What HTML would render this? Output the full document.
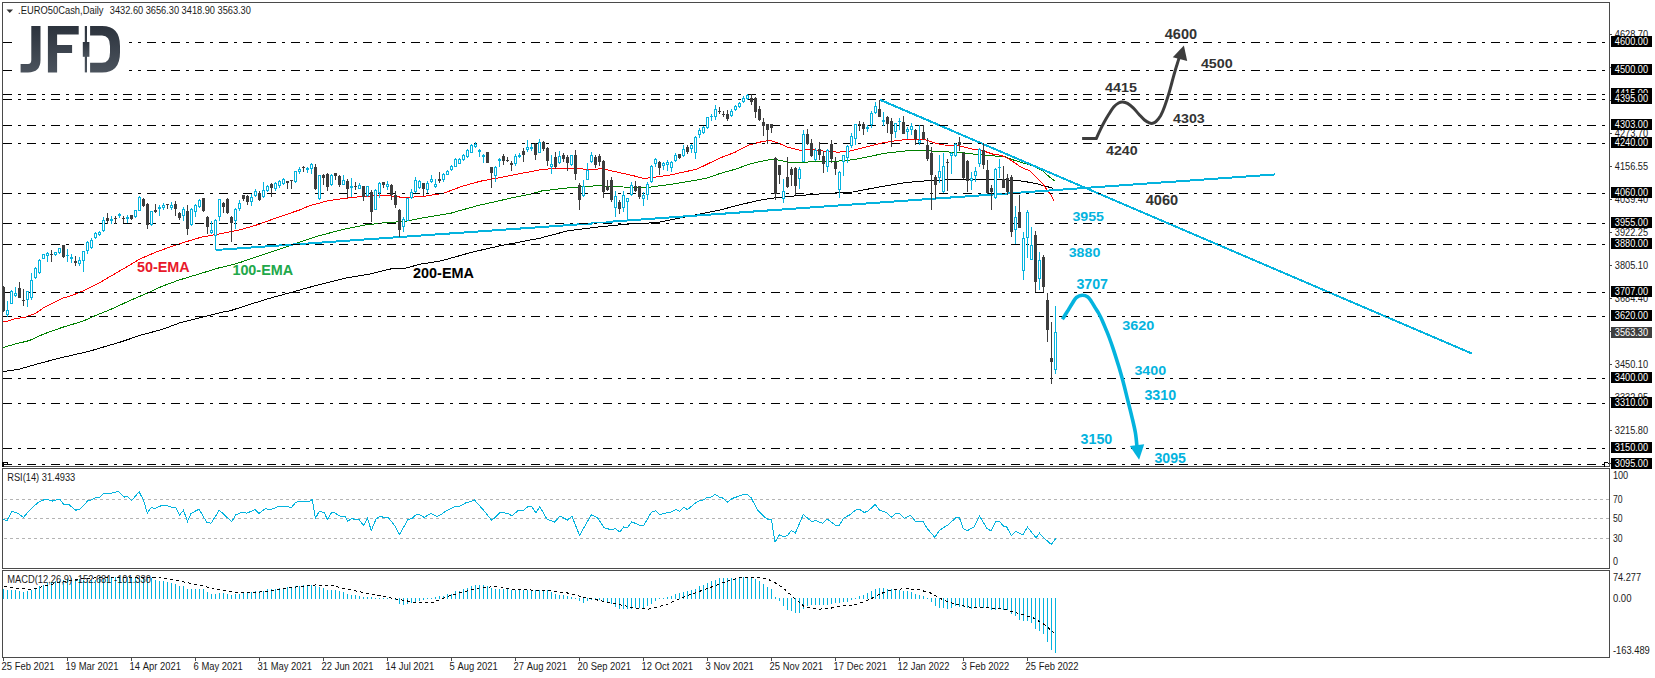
<!DOCTYPE html>
<html><head><meta charset="utf-8"><title>EURO50Cash Daily</title>
<style>html,body{margin:0;padding:0;background:#fff;width:1655px;height:678px;overflow:hidden}</style>
</head><body>
<svg width="1655" height="678" viewBox="0 0 1655 678" style="display:block">
<rect width="1655" height="678" fill="#fff"/>
<g shape-rendering="crispEdges">
<polyline points="2.9,371.7 19.2,369.2 36.9,364.1 59.0,358.2 88.5,351.5 103.2,347.1 120.9,341.9 141.6,334.9 162.2,329.4 179.9,322.8 203.5,316.9 221.2,312.4 230.0,310.8 251.8,303.8 270.6,298.0 290.9,292.5 317.0,285.2 346.0,278.0 367.8,274.4 373.0,273.3 393.0,268.4 405.0,268.4 420.0,264.2 440.0,261.1 455.0,257.0 470.0,252.7 485.0,249.2 500.0,245.8 520.0,242.0 540.0,238.2 546.4,236.4 568.5,230.7 598.0,227.0 627.5,224.1 657.0,222.6 686.5,216.7 720.0,210.0 737.7,205.3 756.9,200.8 771.6,198.2 793.7,196.0 823.2,193.7 852.7,192.0 882.2,186.4 904.4,182.7 926.5,180.8 960.0,179.3 983.6,179.3 1011.9,180.1 1023.7,181.3 1036.7,183.7 1045.0,186.0 1053.2,188.4" fill="none" stroke="#000" stroke-width="1" />
<polyline points="2.9,347.6 14.7,344.2 29.5,340.5 44.2,333.8 61.9,327.5 82.6,321.3 95.9,315.4 112.1,308.8 129.8,300.6 147.5,293.0 162.2,286.2 178.0,280.4 198.0,274.3 219.2,267.8 230.0,265.4 240.0,262.5 259.0,256.0 280.8,248.7 299.6,242.2 318.2,236.0 343.2,229.4 365.4,225.0 386.0,222.5 403.7,221.6 424.4,217.6 450.9,213.2 461.2,210.2 480.0,205.0 494.7,201.9 509.5,198.3 531.6,193.8 541.9,190.9 561.1,188.7 571.4,187.5 598.0,185.7 612.7,186.5 627.5,187.2 649.6,187.2 671.7,184.2 693.9,180.6 708.6,177.6 720.0,173.5 734.7,169.4 749.5,164.2 761.3,161.3 773.1,159.1 790.8,162.5 808.5,162.0 832.1,161.6 852.7,159.8 867.5,156.9 885.2,153.2 911.7,150.2 923.5,150.2 936.8,151.7 960.0,152.3 974.2,154.2 989.5,155.7 1004.8,156.5 1011.9,159.5 1021.4,162.4 1033.2,166.0 1042.6,170.7 1049.7,177.2 1054.4,180.7" fill="none" stroke="#008000" stroke-width="1" />
<polyline points="2.9,321.6 7.4,321.3 13.3,319.1 25.1,317.2 35.4,313.6 44.2,307.3 61.9,298.4 71.8,295.5 83.6,290.8 98.9,283.1 113.1,274.8 126.1,267.2 140.2,258.9 156.7,251.8 178.0,244.2 201.5,237.1 219.2,233.9 240.0,229.9 259.2,224.2 276.9,217.6 299.0,210.2 309.3,205.8 328.5,200.6 347.7,198.0 365.4,196.2 381.6,195.5 396.3,196.2 402.2,197.7 409.6,197.4 424.4,196.2 443.5,193.3 461.2,186.6 480.0,181.3 494.7,178.6 516.9,174.2 541.9,169.5 561.1,168.0 575.9,168.0 586.2,169.5 602.4,168.8 620.1,172.7 634.9,176.1 643.7,178.6 657.0,176.9 671.7,174.7 696.8,169.2 720.0,158.0 734.7,152.4 749.5,144.8 761.3,141.8 770.1,140.4 779.0,143.3 787.8,147.3 799.6,150.2 811.4,149.5 823.2,151.0 838.0,152.2 849.8,151.0 864.5,147.3 882.2,142.9 897.0,140.6 908.8,139.2 923.5,139.2 932.4,142.1 941.2,144.8 960.0,146.0 971.8,148.9 983.6,151.0 993.0,154.2 1001.3,155.4 1009.6,159.3 1021.4,167.5 1029.6,170.7 1035.5,176.6 1042.6,183.7 1047.3,190.2 1050.9,194.7 1054.4,201.4" fill="none" stroke="#ff0000" stroke-width="1" />
</g>
<g shape-rendering="crispEdges" stroke="#04B3DE" stroke-width="2" fill="none">
<line x1="215.5" y1="250" x2="593" y2="223.4"/>
<line x1="592" y1="222.5" x2="606" y2="222.5" stroke-width="1"/>
<line x1="606" y1="222.0" x2="1275.5" y2="174.4"/>
<line x1="880" y1="99.8" x2="1472" y2="353.6"/>
</g>
<g shape-rendering="crispEdges" stroke="#000" stroke-width="1" stroke-dasharray="9 6 3 6">
<line x1="3" y1="42.5" x2="1609" y2="42.5"/>
<line x1="3" y1="70.5" x2="1609" y2="70.5"/>
<line x1="3" y1="94.5" x2="1609" y2="94.5"/>
<line x1="3" y1="99.5" x2="1609" y2="99.5"/>
<line x1="3" y1="125.5" x2="1609" y2="125.5"/>
<line x1="3" y1="143.5" x2="1609" y2="143.5"/>
<line x1="3" y1="193.5" x2="1609" y2="193.5"/>
<line x1="3" y1="223.5" x2="1609" y2="223.5"/>
<line x1="3" y1="244.5" x2="1609" y2="244.5"/>
<line x1="3" y1="292.5" x2="1609" y2="292.5"/>
<line x1="3" y1="316.5" x2="1609" y2="316.5"/>
<line x1="3" y1="378.5" x2="1609" y2="378.5"/>
<line x1="3" y1="403.5" x2="1609" y2="403.5"/>
<line x1="3" y1="448.5" x2="1609" y2="448.5"/>
<line x1="3" y1="464.5" x2="1609" y2="464.5"/>
</g>
<g shape-rendering="crispEdges">
<rect x="3" y="286" width="1" height="26" fill="#3d3d3d"/>
<rect x="3" y="287" width="2" height="24" fill="#3d3d3d"/>
<rect x="7" y="301" width="1" height="16" fill="#04B3DE"/>
<rect x="6" y="310" width="3" height="5" fill="#04B3DE"/>
<rect x="7" y="311" width="1" height="3" fill="#fff"/>
<rect x="11" y="290" width="1" height="14" fill="#04B3DE"/>
<rect x="10" y="291" width="3" height="13" fill="#04B3DE"/>
<rect x="11" y="292" width="1" height="11" fill="#fff"/>
<rect x="15" y="287" width="1" height="10" fill="#04B3DE"/>
<rect x="14" y="293" width="3" height="3" fill="#04B3DE"/>
<rect x="15" y="294" width="1" height="1" fill="#fff"/>
<rect x="19" y="282" width="1" height="16" fill="#3d3d3d"/>
<rect x="18" y="288" width="3" height="10" fill="#3d3d3d"/>
<rect x="23" y="289" width="1" height="17" fill="#3d3d3d"/>
<rect x="22" y="300" width="3" height="1" fill="#3d3d3d"/>
<rect x="27" y="291" width="1" height="16" fill="#04B3DE"/>
<rect x="26" y="291" width="3" height="9" fill="#04B3DE"/>
<rect x="27" y="292" width="1" height="7" fill="#fff"/>
<rect x="31" y="273" width="1" height="27" fill="#04B3DE"/>
<rect x="30" y="280" width="3" height="18" fill="#04B3DE"/>
<rect x="31" y="281" width="1" height="16" fill="#fff"/>
<rect x="35" y="267" width="1" height="12" fill="#04B3DE"/>
<rect x="34" y="268" width="3" height="10" fill="#04B3DE"/>
<rect x="35" y="269" width="1" height="8" fill="#fff"/>
<rect x="39" y="259" width="1" height="15" fill="#04B3DE"/>
<rect x="38" y="260" width="3" height="13" fill="#04B3DE"/>
<rect x="39" y="261" width="1" height="11" fill="#fff"/>
<rect x="43" y="254" width="1" height="5" fill="#04B3DE"/>
<rect x="42" y="254" width="3" height="5" fill="#04B3DE"/>
<rect x="43" y="255" width="1" height="3" fill="#fff"/>
<rect x="47" y="252" width="1" height="10" fill="#04B3DE"/>
<rect x="46" y="253" width="3" height="3" fill="#04B3DE"/>
<rect x="47" y="254" width="1" height="1" fill="#fff"/>
<rect x="51" y="250" width="1" height="12" fill="#3d3d3d"/>
<rect x="50" y="254" width="3" height="1" fill="#3d3d3d"/>
<rect x="55" y="252" width="1" height="4" fill="#04B3DE"/>
<rect x="54" y="252" width="3" height="3" fill="#04B3DE"/>
<rect x="55" y="253" width="1" height="1" fill="#fff"/>
<rect x="59" y="248" width="1" height="6" fill="#04B3DE"/>
<rect x="58" y="248" width="3" height="5" fill="#04B3DE"/>
<rect x="59" y="249" width="1" height="3" fill="#fff"/>
<rect x="63" y="245" width="1" height="13" fill="#3d3d3d"/>
<rect x="62" y="245" width="3" height="12" fill="#3d3d3d"/>
<rect x="67" y="249" width="1" height="13" fill="#04B3DE"/>
<rect x="66" y="255" width="3" height="1" fill="#04B3DE"/>
<rect x="71" y="254" width="1" height="9" fill="#04B3DE"/>
<rect x="70" y="257" width="3" height="2" fill="#04B3DE"/>
<rect x="75" y="256" width="1" height="10" fill="#3d3d3d"/>
<rect x="74" y="261" width="3" height="2" fill="#3d3d3d"/>
<rect x="79" y="257" width="1" height="9" fill="#04B3DE"/>
<rect x="78" y="260" width="3" height="4" fill="#04B3DE"/>
<rect x="79" y="261" width="1" height="2" fill="#fff"/>
<rect x="83" y="251" width="1" height="21" fill="#04B3DE"/>
<rect x="82" y="251" width="3" height="10" fill="#04B3DE"/>
<rect x="83" y="252" width="1" height="8" fill="#fff"/>
<rect x="87" y="241" width="1" height="13" fill="#04B3DE"/>
<rect x="86" y="242" width="3" height="9" fill="#04B3DE"/>
<rect x="87" y="243" width="1" height="7" fill="#fff"/>
<rect x="91" y="238" width="1" height="11" fill="#04B3DE"/>
<rect x="90" y="240" width="3" height="8" fill="#04B3DE"/>
<rect x="91" y="241" width="1" height="6" fill="#fff"/>
<rect x="95" y="232" width="1" height="7" fill="#04B3DE"/>
<rect x="94" y="233" width="3" height="5" fill="#04B3DE"/>
<rect x="95" y="234" width="1" height="3" fill="#fff"/>
<rect x="99" y="231" width="1" height="5" fill="#04B3DE"/>
<rect x="98" y="232" width="3" height="3" fill="#04B3DE"/>
<rect x="99" y="233" width="1" height="1" fill="#fff"/>
<rect x="103" y="217" width="1" height="15" fill="#04B3DE"/>
<rect x="102" y="220" width="3" height="11" fill="#04B3DE"/>
<rect x="103" y="221" width="1" height="9" fill="#fff"/>
<rect x="107" y="213" width="1" height="11" fill="#3d3d3d"/>
<rect x="106" y="218" width="3" height="3" fill="#3d3d3d"/>
<rect x="111" y="216" width="1" height="8" fill="#04B3DE"/>
<rect x="110" y="219" width="3" height="2" fill="#04B3DE"/>
<rect x="115" y="216" width="1" height="8" fill="#3d3d3d"/>
<rect x="114" y="218" width="3" height="1" fill="#3d3d3d"/>
<rect x="119" y="213" width="1" height="5" fill="#04B3DE"/>
<rect x="118" y="214" width="3" height="2" fill="#04B3DE"/>
<rect x="123" y="216" width="1" height="7" fill="#3d3d3d"/>
<rect x="122" y="218" width="3" height="1" fill="#3d3d3d"/>
<rect x="127" y="215" width="1" height="8" fill="#04B3DE"/>
<rect x="126" y="217" width="3" height="2" fill="#04B3DE"/>
<rect x="131" y="215" width="1" height="5" fill="#3d3d3d"/>
<rect x="130" y="215" width="3" height="4" fill="#3d3d3d"/>
<rect x="135" y="210" width="1" height="8" fill="#04B3DE"/>
<rect x="134" y="210" width="3" height="7" fill="#04B3DE"/>
<rect x="135" y="211" width="1" height="5" fill="#fff"/>
<rect x="139" y="196" width="1" height="15" fill="#04B3DE"/>
<rect x="138" y="197" width="3" height="14" fill="#04B3DE"/>
<rect x="139" y="198" width="1" height="12" fill="#fff"/>
<rect x="143" y="198" width="1" height="9" fill="#3d3d3d"/>
<rect x="142" y="199" width="3" height="7" fill="#3d3d3d"/>
<rect x="147" y="203" width="1" height="26" fill="#3d3d3d"/>
<rect x="146" y="204" width="3" height="21" fill="#3d3d3d"/>
<rect x="151" y="211" width="1" height="15" fill="#04B3DE"/>
<rect x="150" y="211" width="3" height="14" fill="#04B3DE"/>
<rect x="151" y="212" width="1" height="12" fill="#fff"/>
<rect x="155" y="204" width="1" height="9" fill="#3d3d3d"/>
<rect x="154" y="210" width="3" height="2" fill="#3d3d3d"/>
<rect x="159" y="205" width="1" height="11" fill="#04B3DE"/>
<rect x="158" y="207" width="3" height="2" fill="#04B3DE"/>
<rect x="163" y="203" width="1" height="7" fill="#04B3DE"/>
<rect x="162" y="205" width="3" height="3" fill="#04B3DE"/>
<rect x="163" y="206" width="1" height="1" fill="#fff"/>
<rect x="167" y="204" width="1" height="5" fill="#3d3d3d"/>
<rect x="166" y="204" width="3" height="1" fill="#3d3d3d"/>
<rect x="171" y="202" width="1" height="8" fill="#04B3DE"/>
<rect x="170" y="205" width="3" height="3" fill="#04B3DE"/>
<rect x="171" y="206" width="1" height="1" fill="#fff"/>
<rect x="175" y="201" width="1" height="15" fill="#3d3d3d"/>
<rect x="174" y="204" width="3" height="5" fill="#3d3d3d"/>
<rect x="179" y="212" width="1" height="8" fill="#3d3d3d"/>
<rect x="178" y="213" width="3" height="5" fill="#3d3d3d"/>
<rect x="183" y="207" width="1" height="14" fill="#04B3DE"/>
<rect x="182" y="209" width="3" height="7" fill="#04B3DE"/>
<rect x="183" y="210" width="1" height="5" fill="#fff"/>
<rect x="187" y="205" width="1" height="30" fill="#3d3d3d"/>
<rect x="186" y="211" width="3" height="18" fill="#3d3d3d"/>
<rect x="191" y="208" width="1" height="18" fill="#04B3DE"/>
<rect x="190" y="209" width="3" height="16" fill="#04B3DE"/>
<rect x="191" y="210" width="1" height="14" fill="#fff"/>
<rect x="195" y="204" width="1" height="13" fill="#04B3DE"/>
<rect x="194" y="205" width="3" height="7" fill="#04B3DE"/>
<rect x="195" y="206" width="1" height="5" fill="#fff"/>
<rect x="199" y="199" width="1" height="9" fill="#04B3DE"/>
<rect x="198" y="200" width="3" height="7" fill="#04B3DE"/>
<rect x="199" y="201" width="1" height="5" fill="#fff"/>
<rect x="203" y="198" width="1" height="14" fill="#3d3d3d"/>
<rect x="202" y="198" width="3" height="13" fill="#3d3d3d"/>
<rect x="207" y="216" width="1" height="18" fill="#3d3d3d"/>
<rect x="206" y="217" width="3" height="10" fill="#3d3d3d"/>
<rect x="211" y="221" width="1" height="13" fill="#04B3DE"/>
<rect x="210" y="230" width="3" height="3" fill="#04B3DE"/>
<rect x="211" y="231" width="1" height="1" fill="#fff"/>
<rect x="215" y="219" width="1" height="31" fill="#04B3DE"/>
<rect x="214" y="220" width="3" height="16" fill="#04B3DE"/>
<rect x="215" y="221" width="1" height="14" fill="#fff"/>
<rect x="219" y="199" width="1" height="22" fill="#04B3DE"/>
<rect x="218" y="199" width="3" height="18" fill="#04B3DE"/>
<rect x="219" y="200" width="1" height="16" fill="#fff"/>
<rect x="223" y="202" width="1" height="11" fill="#3d3d3d"/>
<rect x="222" y="203" width="3" height="4" fill="#3d3d3d"/>
<rect x="227" y="198" width="1" height="16" fill="#3d3d3d"/>
<rect x="226" y="199" width="3" height="14" fill="#3d3d3d"/>
<rect x="231" y="216" width="1" height="26" fill="#3d3d3d"/>
<rect x="230" y="217" width="3" height="6" fill="#3d3d3d"/>
<rect x="235" y="208" width="1" height="21" fill="#04B3DE"/>
<rect x="234" y="209" width="3" height="12" fill="#04B3DE"/>
<rect x="235" y="210" width="1" height="10" fill="#fff"/>
<rect x="239" y="200" width="1" height="11" fill="#04B3DE"/>
<rect x="238" y="203" width="3" height="6" fill="#04B3DE"/>
<rect x="239" y="204" width="1" height="4" fill="#fff"/>
<rect x="243" y="195" width="1" height="6" fill="#3d3d3d"/>
<rect x="242" y="195" width="3" height="4" fill="#3d3d3d"/>
<rect x="247" y="195" width="1" height="10" fill="#3d3d3d"/>
<rect x="246" y="196" width="3" height="6" fill="#3d3d3d"/>
<rect x="251" y="194" width="1" height="12" fill="#04B3DE"/>
<rect x="250" y="197" width="3" height="5" fill="#04B3DE"/>
<rect x="251" y="198" width="1" height="3" fill="#fff"/>
<rect x="255" y="189" width="1" height="8" fill="#04B3DE"/>
<rect x="254" y="191" width="3" height="5" fill="#04B3DE"/>
<rect x="255" y="192" width="1" height="3" fill="#fff"/>
<rect x="259" y="191" width="1" height="10" fill="#3d3d3d"/>
<rect x="258" y="193" width="3" height="7" fill="#3d3d3d"/>
<rect x="263" y="182" width="1" height="16" fill="#04B3DE"/>
<rect x="262" y="190" width="3" height="7" fill="#04B3DE"/>
<rect x="263" y="191" width="1" height="5" fill="#fff"/>
<rect x="267" y="185" width="1" height="7" fill="#04B3DE"/>
<rect x="266" y="186" width="3" height="5" fill="#04B3DE"/>
<rect x="267" y="187" width="1" height="3" fill="#fff"/>
<rect x="271" y="183" width="1" height="14" fill="#3d3d3d"/>
<rect x="270" y="184" width="3" height="4" fill="#3d3d3d"/>
<rect x="275" y="182" width="1" height="9" fill="#04B3DE"/>
<rect x="274" y="183" width="3" height="6" fill="#04B3DE"/>
<rect x="275" y="184" width="1" height="4" fill="#fff"/>
<rect x="279" y="180" width="1" height="8" fill="#04B3DE"/>
<rect x="278" y="181" width="3" height="5" fill="#04B3DE"/>
<rect x="279" y="182" width="1" height="3" fill="#fff"/>
<rect x="283" y="178" width="1" height="7" fill="#04B3DE"/>
<rect x="282" y="179" width="3" height="5" fill="#04B3DE"/>
<rect x="283" y="180" width="1" height="3" fill="#fff"/>
<rect x="287" y="181" width="1" height="8" fill="#3d3d3d"/>
<rect x="286" y="181" width="3" height="2" fill="#3d3d3d"/>
<rect x="291" y="180" width="1" height="9" fill="#3d3d3d"/>
<rect x="290" y="180" width="3" height="1" fill="#3d3d3d"/>
<rect x="295" y="171" width="1" height="12" fill="#04B3DE"/>
<rect x="294" y="171" width="3" height="11" fill="#04B3DE"/>
<rect x="295" y="172" width="1" height="9" fill="#fff"/>
<rect x="299" y="167" width="1" height="7" fill="#04B3DE"/>
<rect x="298" y="169" width="3" height="3" fill="#04B3DE"/>
<rect x="299" y="170" width="1" height="1" fill="#fff"/>
<rect x="303" y="166" width="1" height="6" fill="#3d3d3d"/>
<rect x="302" y="167" width="3" height="1" fill="#3d3d3d"/>
<rect x="307" y="167" width="1" height="6" fill="#04B3DE"/>
<rect x="306" y="168" width="3" height="2" fill="#04B3DE"/>
<rect x="311" y="163" width="1" height="11" fill="#04B3DE"/>
<rect x="310" y="164" width="3" height="5" fill="#04B3DE"/>
<rect x="311" y="165" width="1" height="3" fill="#fff"/>
<rect x="315" y="164" width="1" height="26" fill="#3d3d3d"/>
<rect x="314" y="167" width="3" height="22" fill="#3d3d3d"/>
<rect x="319" y="175" width="1" height="25" fill="#04B3DE"/>
<rect x="318" y="175" width="3" height="24" fill="#04B3DE"/>
<rect x="319" y="176" width="1" height="22" fill="#fff"/>
<rect x="323" y="174" width="1" height="11" fill="#3d3d3d"/>
<rect x="322" y="175" width="3" height="3" fill="#3d3d3d"/>
<rect x="327" y="173" width="1" height="18" fill="#3d3d3d"/>
<rect x="326" y="174" width="3" height="13" fill="#3d3d3d"/>
<rect x="331" y="174" width="1" height="12" fill="#04B3DE"/>
<rect x="330" y="175" width="3" height="10" fill="#04B3DE"/>
<rect x="331" y="176" width="1" height="8" fill="#fff"/>
<rect x="335" y="173" width="1" height="7" fill="#3d3d3d"/>
<rect x="334" y="173" width="3" height="3" fill="#3d3d3d"/>
<rect x="339" y="175" width="1" height="12" fill="#3d3d3d"/>
<rect x="338" y="176" width="3" height="9" fill="#3d3d3d"/>
<rect x="343" y="175" width="1" height="10" fill="#04B3DE"/>
<rect x="342" y="180" width="3" height="5" fill="#04B3DE"/>
<rect x="343" y="181" width="1" height="3" fill="#fff"/>
<rect x="347" y="179" width="1" height="19" fill="#3d3d3d"/>
<rect x="346" y="181" width="3" height="8" fill="#3d3d3d"/>
<rect x="351" y="178" width="1" height="19" fill="#04B3DE"/>
<rect x="350" y="186" width="3" height="2" fill="#04B3DE"/>
<rect x="355" y="182" width="1" height="8" fill="#3d3d3d"/>
<rect x="354" y="186" width="3" height="1" fill="#3d3d3d"/>
<rect x="359" y="183" width="1" height="6" fill="#04B3DE"/>
<rect x="358" y="185" width="3" height="4" fill="#04B3DE"/>
<rect x="359" y="186" width="1" height="2" fill="#fff"/>
<rect x="363" y="186" width="1" height="15" fill="#3d3d3d"/>
<rect x="362" y="186" width="3" height="11" fill="#3d3d3d"/>
<rect x="367" y="186" width="1" height="11" fill="#04B3DE"/>
<rect x="366" y="186" width="3" height="10" fill="#04B3DE"/>
<rect x="367" y="187" width="1" height="8" fill="#fff"/>
<rect x="371" y="190" width="1" height="32" fill="#3d3d3d"/>
<rect x="370" y="192" width="3" height="20" fill="#3d3d3d"/>
<rect x="375" y="189" width="1" height="21" fill="#04B3DE"/>
<rect x="374" y="190" width="3" height="20" fill="#04B3DE"/>
<rect x="375" y="191" width="1" height="18" fill="#fff"/>
<rect x="379" y="182" width="1" height="16" fill="#04B3DE"/>
<rect x="378" y="183" width="3" height="10" fill="#04B3DE"/>
<rect x="379" y="184" width="1" height="8" fill="#fff"/>
<rect x="383" y="182" width="1" height="6" fill="#3d3d3d"/>
<rect x="382" y="182" width="3" height="3" fill="#3d3d3d"/>
<rect x="387" y="181" width="1" height="9" fill="#04B3DE"/>
<rect x="386" y="184" width="3" height="3" fill="#04B3DE"/>
<rect x="387" y="185" width="1" height="1" fill="#fff"/>
<rect x="391" y="184" width="1" height="16" fill="#3d3d3d"/>
<rect x="390" y="185" width="3" height="10" fill="#3d3d3d"/>
<rect x="395" y="191" width="1" height="17" fill="#3d3d3d"/>
<rect x="394" y="195" width="3" height="10" fill="#3d3d3d"/>
<rect x="399" y="209" width="1" height="28" fill="#3d3d3d"/>
<rect x="398" y="210" width="3" height="20" fill="#3d3d3d"/>
<rect x="403" y="217" width="1" height="15" fill="#04B3DE"/>
<rect x="402" y="219" width="3" height="8" fill="#04B3DE"/>
<rect x="403" y="220" width="1" height="6" fill="#fff"/>
<rect x="407" y="198" width="1" height="23" fill="#04B3DE"/>
<rect x="406" y="198" width="3" height="23" fill="#04B3DE"/>
<rect x="407" y="199" width="1" height="21" fill="#fff"/>
<rect x="411" y="189" width="1" height="10" fill="#04B3DE"/>
<rect x="410" y="192" width="3" height="6" fill="#04B3DE"/>
<rect x="411" y="193" width="1" height="4" fill="#fff"/>
<rect x="415" y="177" width="1" height="16" fill="#04B3DE"/>
<rect x="414" y="180" width="3" height="12" fill="#04B3DE"/>
<rect x="415" y="181" width="1" height="10" fill="#fff"/>
<rect x="419" y="180" width="1" height="9" fill="#04B3DE"/>
<rect x="418" y="181" width="3" height="7" fill="#04B3DE"/>
<rect x="419" y="182" width="1" height="5" fill="#fff"/>
<rect x="423" y="183" width="1" height="13" fill="#3d3d3d"/>
<rect x="422" y="183" width="3" height="6" fill="#3d3d3d"/>
<rect x="427" y="181" width="1" height="12" fill="#04B3DE"/>
<rect x="426" y="183" width="3" height="7" fill="#04B3DE"/>
<rect x="427" y="184" width="1" height="5" fill="#fff"/>
<rect x="431" y="175" width="1" height="8" fill="#04B3DE"/>
<rect x="430" y="179" width="3" height="3" fill="#04B3DE"/>
<rect x="431" y="180" width="1" height="1" fill="#fff"/>
<rect x="435" y="179" width="1" height="9" fill="#04B3DE"/>
<rect x="434" y="184" width="3" height="3" fill="#04B3DE"/>
<rect x="435" y="185" width="1" height="1" fill="#fff"/>
<rect x="439" y="172" width="1" height="11" fill="#3d3d3d"/>
<rect x="438" y="179" width="3" height="2" fill="#3d3d3d"/>
<rect x="443" y="173" width="1" height="9" fill="#04B3DE"/>
<rect x="442" y="174" width="3" height="6" fill="#04B3DE"/>
<rect x="443" y="175" width="1" height="4" fill="#fff"/>
<rect x="447" y="170" width="1" height="5" fill="#04B3DE"/>
<rect x="446" y="171" width="3" height="4" fill="#04B3DE"/>
<rect x="447" y="172" width="1" height="2" fill="#fff"/>
<rect x="451" y="165" width="1" height="6" fill="#04B3DE"/>
<rect x="450" y="166" width="3" height="4" fill="#04B3DE"/>
<rect x="451" y="167" width="1" height="2" fill="#fff"/>
<rect x="455" y="158" width="1" height="9" fill="#04B3DE"/>
<rect x="454" y="159" width="3" height="8" fill="#04B3DE"/>
<rect x="455" y="160" width="1" height="6" fill="#fff"/>
<rect x="459" y="158" width="1" height="6" fill="#04B3DE"/>
<rect x="458" y="159" width="3" height="5" fill="#04B3DE"/>
<rect x="459" y="160" width="1" height="3" fill="#fff"/>
<rect x="463" y="154" width="1" height="7" fill="#04B3DE"/>
<rect x="462" y="155" width="3" height="5" fill="#04B3DE"/>
<rect x="463" y="156" width="1" height="3" fill="#fff"/>
<rect x="467" y="149" width="1" height="9" fill="#04B3DE"/>
<rect x="466" y="150" width="3" height="7" fill="#04B3DE"/>
<rect x="467" y="151" width="1" height="5" fill="#fff"/>
<rect x="471" y="144" width="1" height="9" fill="#04B3DE"/>
<rect x="470" y="145" width="3" height="8" fill="#04B3DE"/>
<rect x="471" y="146" width="1" height="6" fill="#fff"/>
<rect x="475" y="142" width="1" height="6" fill="#04B3DE"/>
<rect x="474" y="144" width="3" height="3" fill="#04B3DE"/>
<rect x="475" y="145" width="1" height="1" fill="#fff"/>
<rect x="479" y="149" width="1" height="8" fill="#04B3DE"/>
<rect x="478" y="150" width="3" height="2" fill="#04B3DE"/>
<rect x="483" y="154" width="1" height="9" fill="#04B3DE"/>
<rect x="482" y="155" width="3" height="2" fill="#04B3DE"/>
<rect x="487" y="152" width="1" height="11" fill="#3d3d3d"/>
<rect x="486" y="152" width="3" height="11" fill="#3d3d3d"/>
<rect x="491" y="167" width="1" height="21" fill="#3d3d3d"/>
<rect x="490" y="167" width="3" height="6" fill="#3d3d3d"/>
<rect x="495" y="166" width="1" height="16" fill="#04B3DE"/>
<rect x="494" y="167" width="3" height="9" fill="#04B3DE"/>
<rect x="495" y="168" width="1" height="7" fill="#fff"/>
<rect x="499" y="158" width="1" height="9" fill="#04B3DE"/>
<rect x="498" y="159" width="3" height="2" fill="#04B3DE"/>
<rect x="503" y="154" width="1" height="11" fill="#3d3d3d"/>
<rect x="502" y="156" width="3" height="5" fill="#3d3d3d"/>
<rect x="507" y="157" width="1" height="5" fill="#3d3d3d"/>
<rect x="506" y="160" width="3" height="1" fill="#3d3d3d"/>
<rect x="511" y="161" width="1" height="10" fill="#3d3d3d"/>
<rect x="510" y="163" width="3" height="2" fill="#3d3d3d"/>
<rect x="515" y="154" width="1" height="12" fill="#04B3DE"/>
<rect x="514" y="156" width="3" height="8" fill="#04B3DE"/>
<rect x="515" y="157" width="1" height="6" fill="#fff"/>
<rect x="519" y="153" width="1" height="5" fill="#04B3DE"/>
<rect x="518" y="155" width="3" height="2" fill="#04B3DE"/>
<rect x="523" y="148" width="1" height="14" fill="#3d3d3d"/>
<rect x="522" y="151" width="3" height="4" fill="#3d3d3d"/>
<rect x="527" y="140" width="1" height="12" fill="#04B3DE"/>
<rect x="526" y="147" width="3" height="3" fill="#04B3DE"/>
<rect x="527" y="148" width="1" height="1" fill="#fff"/>
<rect x="531" y="144" width="1" height="7" fill="#04B3DE"/>
<rect x="530" y="147" width="3" height="2" fill="#04B3DE"/>
<rect x="535" y="143" width="1" height="17" fill="#3d3d3d"/>
<rect x="534" y="144" width="3" height="11" fill="#3d3d3d"/>
<rect x="539" y="139" width="1" height="14" fill="#04B3DE"/>
<rect x="538" y="142" width="3" height="11" fill="#04B3DE"/>
<rect x="539" y="143" width="1" height="9" fill="#fff"/>
<rect x="543" y="141" width="1" height="10" fill="#3d3d3d"/>
<rect x="542" y="142" width="3" height="7" fill="#3d3d3d"/>
<rect x="547" y="147" width="1" height="19" fill="#3d3d3d"/>
<rect x="546" y="148" width="3" height="13" fill="#3d3d3d"/>
<rect x="551" y="155" width="1" height="19" fill="#04B3DE"/>
<rect x="550" y="164" width="3" height="3" fill="#04B3DE"/>
<rect x="551" y="165" width="1" height="1" fill="#fff"/>
<rect x="555" y="152" width="1" height="17" fill="#3d3d3d"/>
<rect x="554" y="157" width="3" height="10" fill="#3d3d3d"/>
<rect x="559" y="151" width="1" height="13" fill="#04B3DE"/>
<rect x="558" y="156" width="3" height="7" fill="#04B3DE"/>
<rect x="559" y="157" width="1" height="5" fill="#fff"/>
<rect x="563" y="153" width="1" height="9" fill="#3d3d3d"/>
<rect x="562" y="155" width="3" height="4" fill="#3d3d3d"/>
<rect x="567" y="155" width="1" height="16" fill="#3d3d3d"/>
<rect x="566" y="157" width="3" height="6" fill="#3d3d3d"/>
<rect x="571" y="155" width="1" height="11" fill="#04B3DE"/>
<rect x="570" y="155" width="3" height="10" fill="#04B3DE"/>
<rect x="571" y="156" width="1" height="8" fill="#fff"/>
<rect x="575" y="150" width="1" height="30" fill="#3d3d3d"/>
<rect x="574" y="155" width="3" height="19" fill="#3d3d3d"/>
<rect x="579" y="183" width="1" height="27" fill="#3d3d3d"/>
<rect x="578" y="185" width="3" height="15" fill="#3d3d3d"/>
<rect x="583" y="180" width="1" height="17" fill="#04B3DE"/>
<rect x="582" y="186" width="3" height="10" fill="#04B3DE"/>
<rect x="583" y="187" width="1" height="8" fill="#fff"/>
<rect x="587" y="163" width="1" height="17" fill="#04B3DE"/>
<rect x="586" y="170" width="3" height="10" fill="#04B3DE"/>
<rect x="587" y="171" width="1" height="8" fill="#fff"/>
<rect x="591" y="152" width="1" height="11" fill="#04B3DE"/>
<rect x="590" y="155" width="3" height="7" fill="#04B3DE"/>
<rect x="591" y="156" width="1" height="5" fill="#fff"/>
<rect x="595" y="155" width="1" height="13" fill="#3d3d3d"/>
<rect x="594" y="157" width="3" height="8" fill="#3d3d3d"/>
<rect x="599" y="154" width="1" height="12" fill="#3d3d3d"/>
<rect x="598" y="156" width="3" height="6" fill="#3d3d3d"/>
<rect x="603" y="160" width="1" height="38" fill="#3d3d3d"/>
<rect x="602" y="161" width="3" height="31" fill="#3d3d3d"/>
<rect x="607" y="180" width="1" height="11" fill="#3d3d3d"/>
<rect x="606" y="186" width="3" height="4" fill="#3d3d3d"/>
<rect x="611" y="177" width="1" height="25" fill="#3d3d3d"/>
<rect x="610" y="180" width="3" height="20" fill="#3d3d3d"/>
<rect x="615" y="191" width="1" height="26" fill="#04B3DE"/>
<rect x="614" y="196" width="3" height="12" fill="#04B3DE"/>
<rect x="615" y="197" width="1" height="10" fill="#fff"/>
<rect x="619" y="200" width="1" height="14" fill="#3d3d3d"/>
<rect x="618" y="202" width="3" height="7" fill="#3d3d3d"/>
<rect x="623" y="191" width="1" height="21" fill="#04B3DE"/>
<rect x="622" y="195" width="3" height="13" fill="#04B3DE"/>
<rect x="623" y="196" width="1" height="11" fill="#fff"/>
<rect x="627" y="198" width="1" height="22" fill="#04B3DE"/>
<rect x="626" y="198" width="3" height="4" fill="#04B3DE"/>
<rect x="627" y="199" width="1" height="2" fill="#fff"/>
<rect x="631" y="182" width="1" height="14" fill="#04B3DE"/>
<rect x="630" y="185" width="3" height="10" fill="#04B3DE"/>
<rect x="631" y="186" width="1" height="8" fill="#fff"/>
<rect x="635" y="181" width="1" height="11" fill="#3d3d3d"/>
<rect x="634" y="186" width="3" height="5" fill="#3d3d3d"/>
<rect x="639" y="186" width="1" height="13" fill="#3d3d3d"/>
<rect x="638" y="186" width="3" height="11" fill="#3d3d3d"/>
<rect x="643" y="192" width="1" height="14" fill="#04B3DE"/>
<rect x="642" y="195" width="3" height="4" fill="#04B3DE"/>
<rect x="643" y="196" width="1" height="2" fill="#fff"/>
<rect x="647" y="182" width="1" height="18" fill="#04B3DE"/>
<rect x="646" y="184" width="3" height="11" fill="#04B3DE"/>
<rect x="647" y="185" width="1" height="9" fill="#fff"/>
<rect x="651" y="165" width="1" height="18" fill="#04B3DE"/>
<rect x="650" y="166" width="3" height="16" fill="#04B3DE"/>
<rect x="651" y="167" width="1" height="14" fill="#fff"/>
<rect x="655" y="158" width="1" height="9" fill="#04B3DE"/>
<rect x="654" y="159" width="3" height="5" fill="#04B3DE"/>
<rect x="655" y="160" width="1" height="3" fill="#fff"/>
<rect x="659" y="161" width="1" height="14" fill="#3d3d3d"/>
<rect x="658" y="162" width="3" height="6" fill="#3d3d3d"/>
<rect x="663" y="162" width="1" height="8" fill="#04B3DE"/>
<rect x="662" y="163" width="3" height="3" fill="#04B3DE"/>
<rect x="663" y="164" width="1" height="1" fill="#fff"/>
<rect x="667" y="160" width="1" height="11" fill="#04B3DE"/>
<rect x="666" y="162" width="3" height="3" fill="#04B3DE"/>
<rect x="667" y="163" width="1" height="1" fill="#fff"/>
<rect x="671" y="161" width="1" height="11" fill="#04B3DE"/>
<rect x="670" y="162" width="3" height="6" fill="#04B3DE"/>
<rect x="671" y="163" width="1" height="4" fill="#fff"/>
<rect x="675" y="153" width="1" height="9" fill="#04B3DE"/>
<rect x="674" y="155" width="3" height="6" fill="#04B3DE"/>
<rect x="675" y="156" width="1" height="4" fill="#fff"/>
<rect x="679" y="154" width="1" height="5" fill="#3d3d3d"/>
<rect x="678" y="154" width="3" height="4" fill="#3d3d3d"/>
<rect x="683" y="145" width="1" height="12" fill="#04B3DE"/>
<rect x="682" y="149" width="3" height="7" fill="#04B3DE"/>
<rect x="683" y="150" width="1" height="5" fill="#fff"/>
<rect x="687" y="145" width="1" height="9" fill="#3d3d3d"/>
<rect x="686" y="147" width="3" height="5" fill="#3d3d3d"/>
<rect x="691" y="144" width="1" height="9" fill="#04B3DE"/>
<rect x="690" y="145" width="3" height="4" fill="#04B3DE"/>
<rect x="691" y="146" width="1" height="2" fill="#fff"/>
<rect x="695" y="136" width="1" height="23" fill="#04B3DE"/>
<rect x="694" y="137" width="3" height="16" fill="#04B3DE"/>
<rect x="695" y="138" width="1" height="14" fill="#fff"/>
<rect x="699" y="128" width="1" height="10" fill="#04B3DE"/>
<rect x="698" y="130" width="3" height="5" fill="#04B3DE"/>
<rect x="699" y="131" width="1" height="3" fill="#fff"/>
<rect x="703" y="126" width="1" height="8" fill="#04B3DE"/>
<rect x="702" y="127" width="3" height="6" fill="#04B3DE"/>
<rect x="703" y="128" width="1" height="4" fill="#fff"/>
<rect x="707" y="117" width="1" height="12" fill="#04B3DE"/>
<rect x="706" y="117" width="3" height="11" fill="#04B3DE"/>
<rect x="707" y="118" width="1" height="9" fill="#fff"/>
<rect x="711" y="114" width="1" height="7" fill="#04B3DE"/>
<rect x="710" y="116" width="3" height="1" fill="#04B3DE"/>
<rect x="715" y="105" width="1" height="15" fill="#04B3DE"/>
<rect x="714" y="109" width="3" height="8" fill="#04B3DE"/>
<rect x="715" y="110" width="1" height="6" fill="#fff"/>
<rect x="719" y="107" width="1" height="7" fill="#3d3d3d"/>
<rect x="718" y="111" width="3" height="1" fill="#3d3d3d"/>
<rect x="723" y="111" width="1" height="6" fill="#3d3d3d"/>
<rect x="722" y="114" width="3" height="1" fill="#3d3d3d"/>
<rect x="727" y="110" width="1" height="11" fill="#3d3d3d"/>
<rect x="726" y="114" width="3" height="5" fill="#3d3d3d"/>
<rect x="731" y="109" width="1" height="8" fill="#04B3DE"/>
<rect x="730" y="111" width="3" height="5" fill="#04B3DE"/>
<rect x="731" y="112" width="1" height="3" fill="#fff"/>
<rect x="735" y="105" width="1" height="6" fill="#04B3DE"/>
<rect x="734" y="106" width="3" height="4" fill="#04B3DE"/>
<rect x="735" y="107" width="1" height="2" fill="#fff"/>
<rect x="739" y="102" width="1" height="6" fill="#04B3DE"/>
<rect x="738" y="103" width="3" height="4" fill="#04B3DE"/>
<rect x="739" y="104" width="1" height="2" fill="#fff"/>
<rect x="743" y="96" width="1" height="7" fill="#04B3DE"/>
<rect x="742" y="98" width="3" height="4" fill="#04B3DE"/>
<rect x="743" y="99" width="1" height="2" fill="#fff"/>
<rect x="747" y="94" width="1" height="6" fill="#04B3DE"/>
<rect x="746" y="95" width="3" height="4" fill="#04B3DE"/>
<rect x="747" y="96" width="1" height="2" fill="#fff"/>
<rect x="751" y="94" width="1" height="11" fill="#3d3d3d"/>
<rect x="750" y="98" width="3" height="4" fill="#3d3d3d"/>
<rect x="755" y="97" width="1" height="21" fill="#3d3d3d"/>
<rect x="754" y="98" width="3" height="14" fill="#3d3d3d"/>
<rect x="759" y="106" width="1" height="15" fill="#3d3d3d"/>
<rect x="758" y="109" width="3" height="11" fill="#3d3d3d"/>
<rect x="763" y="118" width="1" height="18" fill="#3d3d3d"/>
<rect x="762" y="122" width="3" height="4" fill="#3d3d3d"/>
<rect x="767" y="124" width="1" height="20" fill="#3d3d3d"/>
<rect x="766" y="124" width="3" height="6" fill="#3d3d3d"/>
<rect x="771" y="124" width="1" height="9" fill="#3d3d3d"/>
<rect x="770" y="124" width="3" height="4" fill="#3d3d3d"/>
<rect x="775" y="157" width="1" height="43" fill="#3d3d3d"/>
<rect x="774" y="158" width="3" height="36" fill="#3d3d3d"/>
<rect x="779" y="165" width="1" height="19" fill="#3d3d3d"/>
<rect x="778" y="165" width="3" height="10" fill="#3d3d3d"/>
<rect x="783" y="179" width="1" height="24" fill="#04B3DE"/>
<rect x="782" y="191" width="3" height="8" fill="#04B3DE"/>
<rect x="783" y="192" width="1" height="6" fill="#fff"/>
<rect x="787" y="157" width="1" height="31" fill="#3d3d3d"/>
<rect x="786" y="177" width="3" height="10" fill="#3d3d3d"/>
<rect x="791" y="167" width="1" height="19" fill="#3d3d3d"/>
<rect x="790" y="169" width="3" height="6" fill="#3d3d3d"/>
<rect x="795" y="167" width="1" height="28" fill="#3d3d3d"/>
<rect x="794" y="168" width="3" height="18" fill="#3d3d3d"/>
<rect x="799" y="167" width="1" height="22" fill="#04B3DE"/>
<rect x="798" y="169" width="3" height="10" fill="#04B3DE"/>
<rect x="799" y="170" width="1" height="8" fill="#fff"/>
<rect x="803" y="130" width="1" height="32" fill="#04B3DE"/>
<rect x="802" y="134" width="3" height="28" fill="#04B3DE"/>
<rect x="803" y="135" width="1" height="26" fill="#fff"/>
<rect x="807" y="129" width="1" height="16" fill="#3d3d3d"/>
<rect x="806" y="134" width="3" height="10" fill="#3d3d3d"/>
<rect x="811" y="139" width="1" height="18" fill="#3d3d3d"/>
<rect x="810" y="143" width="3" height="13" fill="#3d3d3d"/>
<rect x="815" y="148" width="1" height="13" fill="#04B3DE"/>
<rect x="814" y="150" width="3" height="10" fill="#04B3DE"/>
<rect x="815" y="151" width="1" height="8" fill="#fff"/>
<rect x="819" y="142" width="1" height="18" fill="#3d3d3d"/>
<rect x="818" y="149" width="3" height="6" fill="#3d3d3d"/>
<rect x="823" y="151" width="1" height="22" fill="#3d3d3d"/>
<rect x="822" y="156" width="3" height="8" fill="#3d3d3d"/>
<rect x="827" y="149" width="1" height="23" fill="#04B3DE"/>
<rect x="826" y="150" width="3" height="17" fill="#04B3DE"/>
<rect x="827" y="151" width="1" height="15" fill="#fff"/>
<rect x="831" y="140" width="1" height="23" fill="#3d3d3d"/>
<rect x="830" y="144" width="3" height="15" fill="#3d3d3d"/>
<rect x="835" y="157" width="1" height="18" fill="#3d3d3d"/>
<rect x="834" y="162" width="3" height="7" fill="#3d3d3d"/>
<rect x="839" y="171" width="1" height="27" fill="#04B3DE"/>
<rect x="838" y="172" width="3" height="18" fill="#04B3DE"/>
<rect x="839" y="173" width="1" height="16" fill="#fff"/>
<rect x="843" y="155" width="1" height="21" fill="#04B3DE"/>
<rect x="842" y="155" width="3" height="7" fill="#04B3DE"/>
<rect x="843" y="156" width="1" height="5" fill="#fff"/>
<rect x="847" y="145" width="1" height="18" fill="#04B3DE"/>
<rect x="846" y="146" width="3" height="12" fill="#04B3DE"/>
<rect x="847" y="147" width="1" height="10" fill="#fff"/>
<rect x="851" y="133" width="1" height="15" fill="#04B3DE"/>
<rect x="850" y="136" width="3" height="10" fill="#04B3DE"/>
<rect x="851" y="137" width="1" height="8" fill="#fff"/>
<rect x="855" y="124" width="1" height="21" fill="#04B3DE"/>
<rect x="854" y="124" width="3" height="15" fill="#04B3DE"/>
<rect x="855" y="125" width="1" height="13" fill="#fff"/>
<rect x="859" y="121" width="1" height="10" fill="#3d3d3d"/>
<rect x="858" y="124" width="3" height="1" fill="#3d3d3d"/>
<rect x="863" y="122" width="1" height="13" fill="#3d3d3d"/>
<rect x="862" y="124" width="3" height="5" fill="#3d3d3d"/>
<rect x="867" y="125" width="1" height="7" fill="#04B3DE"/>
<rect x="866" y="127" width="3" height="2" fill="#04B3DE"/>
<rect x="871" y="111" width="1" height="17" fill="#04B3DE"/>
<rect x="870" y="113" width="3" height="12" fill="#04B3DE"/>
<rect x="871" y="114" width="1" height="10" fill="#fff"/>
<rect x="875" y="102" width="1" height="12" fill="#04B3DE"/>
<rect x="874" y="106" width="3" height="7" fill="#04B3DE"/>
<rect x="875" y="107" width="1" height="5" fill="#fff"/>
<rect x="879" y="100" width="1" height="17" fill="#3d3d3d"/>
<rect x="878" y="109" width="3" height="8" fill="#3d3d3d"/>
<rect x="883" y="112" width="1" height="14" fill="#04B3DE"/>
<rect x="882" y="120" width="3" height="2" fill="#04B3DE"/>
<rect x="887" y="116" width="1" height="17" fill="#3d3d3d"/>
<rect x="886" y="117" width="3" height="7" fill="#3d3d3d"/>
<rect x="891" y="118" width="1" height="29" fill="#3d3d3d"/>
<rect x="890" y="121" width="3" height="13" fill="#3d3d3d"/>
<rect x="895" y="123" width="1" height="15" fill="#04B3DE"/>
<rect x="894" y="123" width="3" height="9" fill="#04B3DE"/>
<rect x="895" y="124" width="1" height="7" fill="#fff"/>
<rect x="899" y="118" width="1" height="12" fill="#04B3DE"/>
<rect x="898" y="121" width="3" height="1" fill="#04B3DE"/>
<rect x="903" y="116" width="1" height="18" fill="#3d3d3d"/>
<rect x="902" y="122" width="3" height="12" fill="#3d3d3d"/>
<rect x="907" y="127" width="1" height="12" fill="#04B3DE"/>
<rect x="906" y="129" width="3" height="3" fill="#04B3DE"/>
<rect x="907" y="130" width="1" height="1" fill="#fff"/>
<rect x="911" y="123" width="1" height="12" fill="#04B3DE"/>
<rect x="910" y="126" width="3" height="4" fill="#04B3DE"/>
<rect x="911" y="127" width="1" height="2" fill="#fff"/>
<rect x="915" y="129" width="1" height="16" fill="#3d3d3d"/>
<rect x="914" y="130" width="3" height="9" fill="#3d3d3d"/>
<rect x="919" y="125" width="1" height="20" fill="#04B3DE"/>
<rect x="918" y="140" width="3" height="3" fill="#04B3DE"/>
<rect x="919" y="141" width="1" height="1" fill="#fff"/>
<rect x="923" y="125" width="1" height="15" fill="#3d3d3d"/>
<rect x="922" y="132" width="3" height="7" fill="#3d3d3d"/>
<rect x="927" y="138" width="1" height="23" fill="#3d3d3d"/>
<rect x="926" y="145" width="3" height="14" fill="#3d3d3d"/>
<rect x="931" y="147" width="1" height="63" fill="#3d3d3d"/>
<rect x="930" y="153" width="3" height="22" fill="#3d3d3d"/>
<rect x="935" y="175" width="1" height="24" fill="#3d3d3d"/>
<rect x="934" y="177" width="3" height="8" fill="#3d3d3d"/>
<rect x="939" y="155" width="1" height="28" fill="#04B3DE"/>
<rect x="938" y="171" width="3" height="7" fill="#04B3DE"/>
<rect x="939" y="172" width="1" height="5" fill="#fff"/>
<rect x="943" y="153" width="1" height="40" fill="#04B3DE"/>
<rect x="942" y="166" width="3" height="26" fill="#04B3DE"/>
<rect x="943" y="167" width="1" height="24" fill="#fff"/>
<rect x="947" y="159" width="1" height="32" fill="#3d3d3d"/>
<rect x="946" y="162" width="3" height="1" fill="#3d3d3d"/>
<rect x="951" y="152" width="1" height="22" fill="#04B3DE"/>
<rect x="950" y="153" width="3" height="3" fill="#04B3DE"/>
<rect x="951" y="154" width="1" height="1" fill="#fff"/>
<rect x="955" y="143" width="1" height="14" fill="#04B3DE"/>
<rect x="954" y="144" width="3" height="12" fill="#04B3DE"/>
<rect x="955" y="145" width="1" height="10" fill="#fff"/>
<rect x="959" y="137" width="1" height="14" fill="#3d3d3d"/>
<rect x="958" y="142" width="3" height="3" fill="#3d3d3d"/>
<rect x="963" y="152" width="1" height="27" fill="#3d3d3d"/>
<rect x="962" y="153" width="3" height="25" fill="#3d3d3d"/>
<rect x="967" y="160" width="1" height="32" fill="#3d3d3d"/>
<rect x="966" y="161" width="3" height="20" fill="#3d3d3d"/>
<rect x="971" y="172" width="1" height="18" fill="#04B3DE"/>
<rect x="970" y="178" width="3" height="3" fill="#04B3DE"/>
<rect x="971" y="179" width="1" height="1" fill="#fff"/>
<rect x="975" y="167" width="1" height="15" fill="#04B3DE"/>
<rect x="974" y="171" width="3" height="5" fill="#04B3DE"/>
<rect x="975" y="172" width="1" height="3" fill="#fff"/>
<rect x="979" y="148" width="1" height="19" fill="#04B3DE"/>
<rect x="978" y="149" width="3" height="15" fill="#04B3DE"/>
<rect x="979" y="150" width="1" height="13" fill="#fff"/>
<rect x="983" y="143" width="1" height="26" fill="#3d3d3d"/>
<rect x="982" y="150" width="3" height="15" fill="#3d3d3d"/>
<rect x="987" y="160" width="1" height="34" fill="#3d3d3d"/>
<rect x="986" y="170" width="3" height="23" fill="#3d3d3d"/>
<rect x="991" y="185" width="1" height="25" fill="#3d3d3d"/>
<rect x="990" y="188" width="3" height="4" fill="#3d3d3d"/>
<rect x="995" y="168" width="1" height="31" fill="#04B3DE"/>
<rect x="994" y="169" width="3" height="29" fill="#04B3DE"/>
<rect x="995" y="170" width="1" height="27" fill="#fff"/>
<rect x="999" y="159" width="1" height="19" fill="#04B3DE"/>
<rect x="998" y="167" width="3" height="1" fill="#04B3DE"/>
<rect x="1003" y="166" width="1" height="22" fill="#3d3d3d"/>
<rect x="1002" y="179" width="3" height="9" fill="#3d3d3d"/>
<rect x="1007" y="174" width="1" height="21" fill="#3d3d3d"/>
<rect x="1006" y="178" width="3" height="14" fill="#3d3d3d"/>
<rect x="1011" y="175" width="1" height="62" fill="#3d3d3d"/>
<rect x="1010" y="177" width="3" height="55" fill="#3d3d3d"/>
<rect x="1015" y="206" width="1" height="38" fill="#04B3DE"/>
<rect x="1014" y="217" width="3" height="13" fill="#04B3DE"/>
<rect x="1015" y="218" width="1" height="11" fill="#fff"/>
<rect x="1019" y="195" width="1" height="33" fill="#3d3d3d"/>
<rect x="1018" y="212" width="3" height="16" fill="#3d3d3d"/>
<rect x="1023" y="232" width="1" height="48" fill="#04B3DE"/>
<rect x="1022" y="238" width="3" height="33" fill="#04B3DE"/>
<rect x="1023" y="239" width="1" height="31" fill="#fff"/>
<rect x="1027" y="210" width="1" height="48" fill="#04B3DE"/>
<rect x="1026" y="212" width="3" height="26" fill="#04B3DE"/>
<rect x="1027" y="213" width="1" height="24" fill="#fff"/>
<rect x="1031" y="227" width="1" height="33" fill="#04B3DE"/>
<rect x="1030" y="245" width="3" height="15" fill="#04B3DE"/>
<rect x="1031" y="246" width="1" height="13" fill="#fff"/>
<rect x="1035" y="231" width="1" height="61" fill="#3d3d3d"/>
<rect x="1034" y="235" width="3" height="47" fill="#3d3d3d"/>
<rect x="1039" y="252" width="1" height="38" fill="#04B3DE"/>
<rect x="1038" y="260" width="3" height="19" fill="#04B3DE"/>
<rect x="1039" y="261" width="1" height="17" fill="#fff"/>
<rect x="1043" y="255" width="1" height="37" fill="#3d3d3d"/>
<rect x="1042" y="257" width="3" height="30" fill="#3d3d3d"/>
<rect x="1047" y="293" width="1" height="49" fill="#3d3d3d"/>
<rect x="1046" y="300" width="3" height="30" fill="#3d3d3d"/>
<rect x="1051" y="322" width="1" height="62" fill="#3d3d3d"/>
<rect x="1050" y="358" width="3" height="4" fill="#3d3d3d"/>
<rect x="1055" y="306" width="1" height="68" fill="#04B3DE"/>
<rect x="1054" y="332" width="3" height="38" fill="#04B3DE"/>
<rect x="1055" y="333" width="1" height="36" fill="#fff"/>
</g>
<path d="M1082.1,138.5 L1096.3,138.5 L1096.3,138.5 C1096.9,137.2 1098.6,133.3 1099.9,130.6 C1101.2,127.9 1102.5,125.2 1104.0,122.5 C1105.5,119.8 1107.2,116.9 1108.8,114.3 C1110.4,111.7 1112.1,108.9 1113.7,107.0 C1115.3,105.1 1117.1,103.8 1118.6,103.0 C1120.1,102.2 1121.1,101.9 1122.6,102.0 C1124.1,102.1 1125.7,102.4 1127.5,103.4 C1129.3,104.4 1131.3,106.0 1133.2,107.8 C1135.1,109.6 1137.0,112.3 1138.9,114.3 C1140.8,116.3 1142.8,118.6 1144.5,120.0 C1146.2,121.4 1148.1,122.4 1149.4,122.9 C1150.8,123.5 1151.5,123.5 1152.6,123.3 C1153.7,123.1 1154.6,122.9 1155.9,121.6 C1157.2,120.3 1159.1,118.2 1160.6,115.7 C1162.0,113.2 1163.3,110.0 1164.6,106.4 C1165.9,102.9 1167.4,98.4 1168.6,94.4 C1169.8,90.4 1170.8,86.5 1171.9,82.5 C1173.0,78.5 1174.1,74.3 1175.2,70.5 C1176.3,66.7 1177.7,62.6 1178.5,59.9 C1179.3,57.1 1179.9,55.0 1180.2,54.0" fill="none" stroke="#3d3d3d" stroke-width="3" stroke-linejoin="round"/>
<path d="M1183.9,45.6 L1172.8,57.3 L1187.2,61 Z" fill="#3d3d3d"/>
<path d="M1062.4,319.3 C1062.9,318.5 1064.3,316.3 1065.4,314.5 C1066.5,312.7 1067.9,310.6 1069.1,308.6 C1070.3,306.6 1071.5,304.6 1072.7,302.7 C1073.9,300.8 1074.8,298.7 1076.4,297.5 C1078.0,296.3 1080.5,295.4 1082.3,295.3 C1084.1,295.2 1086.0,295.8 1087.5,296.8 C1089.0,297.8 1090.0,299.5 1091.2,301.2 C1092.4,302.9 1093.6,305.1 1094.8,307.1 C1096.0,309.1 1097.3,310.8 1098.5,313.0 C1099.7,315.2 1101.0,317.7 1102.2,320.4 C1103.4,323.1 1104.7,326.3 1105.9,329.2 C1107.1,332.1 1108.2,334.7 1109.4,338.0 C1110.6,341.3 1111.6,344.1 1113.2,348.8 C1114.8,353.6 1117.1,361.0 1118.8,366.5 C1120.5,372.0 1121.7,376.5 1123.2,382.0 C1124.7,387.5 1126.1,393.7 1127.6,399.6 C1129.1,405.5 1130.7,411.8 1132.0,417.3 C1133.3,422.8 1134.6,428.0 1135.4,432.8 C1136.2,437.6 1136.7,443.8 1136.9,446.0" fill="none" stroke="#04B3DE" stroke-width="3.6"/>
<path d="M1139.1,459.8 L1129.8,446.1 L1144.2,444.3 Z" fill="#04B3DE"/>
<text x="1164.8" y="38.8" textLength="32.3" lengthAdjust="spacingAndGlyphs" font-family="Liberation Sans, sans-serif" font-weight="bold" font-size="13.86" fill="#333333">4600</text>
<text x="1200.9" y="67.9" textLength="31.9" lengthAdjust="spacingAndGlyphs" font-family="Liberation Sans, sans-serif" font-weight="bold" font-size="13.43" fill="#333333">4500</text>
<text x="1105.0" y="91.6" textLength="31.9" lengthAdjust="spacingAndGlyphs" font-family="Liberation Sans, sans-serif" font-weight="bold" font-size="13.29" fill="#333333">4415</text>
<text x="1173.1" y="122.7" textLength="31.6" lengthAdjust="spacingAndGlyphs" font-family="Liberation Sans, sans-serif" font-weight="bold" font-size="13.00" fill="#333333">4303</text>
<text x="1106.0" y="154.6" textLength="31.7" lengthAdjust="spacingAndGlyphs" font-family="Liberation Sans, sans-serif" font-weight="bold" font-size="13.00" fill="#333333">4240</text>
<text x="1145.7" y="205.0" textLength="32.4" lengthAdjust="spacingAndGlyphs" font-family="Liberation Sans, sans-serif" font-weight="bold" font-size="13.71" fill="#333333">4060</text>
<text x="1072.4" y="220.7" textLength="31.6" lengthAdjust="spacingAndGlyphs" font-family="Liberation Sans, sans-serif" font-weight="bold" font-size="13.29" fill="#04B3DE">3955</text>
<text x="1068.7" y="256.6" textLength="31.6" lengthAdjust="spacingAndGlyphs" font-family="Liberation Sans, sans-serif" font-weight="bold" font-size="13.29" fill="#04B3DE">3880</text>
<text x="1076.4" y="288.7" textLength="31.6" lengthAdjust="spacingAndGlyphs" font-family="Liberation Sans, sans-serif" font-weight="bold" font-size="13.71" fill="#04B3DE">3707</text>
<text x="1122.2" y="329.6" textLength="32.1" lengthAdjust="spacingAndGlyphs" font-family="Liberation Sans, sans-serif" font-weight="bold" font-size="13.29" fill="#04B3DE">3620</text>
<text x="1134.4" y="374.7" textLength="31.8" lengthAdjust="spacingAndGlyphs" font-family="Liberation Sans, sans-serif" font-weight="bold" font-size="13.29" fill="#04B3DE">3400</text>
<text x="1144.4" y="399.6" textLength="31.8" lengthAdjust="spacingAndGlyphs" font-family="Liberation Sans, sans-serif" font-weight="bold" font-size="13.71" fill="#04B3DE">3310</text>
<text x="1080.5" y="444.0" textLength="31.8" lengthAdjust="spacingAndGlyphs" font-family="Liberation Sans, sans-serif" font-weight="bold" font-size="13.86" fill="#04B3DE">3150</text>
<text x="1154.5" y="462.9" textLength="31.4" lengthAdjust="spacingAndGlyphs" font-family="Liberation Sans, sans-serif" font-weight="bold" font-size="13.71" fill="#04B3DE">3095</text>
<text x="136.9" y="272.0" textLength="52.8" lengthAdjust="spacingAndGlyphs" font-family="Liberation Sans, sans-serif" font-weight="bold" font-size="14.00" fill="#e8182a">50-EMA</text>
<text x="232.4" y="274.7" textLength="60.7" lengthAdjust="spacingAndGlyphs" font-family="Liberation Sans, sans-serif" font-weight="bold" font-size="14.14" fill="#22a84a">100-EMA</text>
<text x="413.0" y="277.9" textLength="61.0" lengthAdjust="spacingAndGlyphs" font-family="Liberation Sans, sans-serif" font-weight="bold" font-size="14.14" fill="#000">200-EMA</text>
<g shape-rendering="crispEdges" fill="none" stroke="#4a4a4a" stroke-width="1">
<rect x="2.5" y="2.5" width="1607" height="464"/>
<rect x="2.5" y="468.5" width="1607" height="100"/>
<rect x="2.5" y="570.5" width="1607" height="87"/>
</g>
<g fill="#000" shape-rendering="crispEdges"><rect x="2" y="462" width="2" height="5"/><rect x="2" y="462" width="6" height="1"/><rect x="7" y="463" width="1" height="1"/><rect x="1604" y="462" width="1" height="5"/><rect x="1604" y="462" width="4" height="1"/><rect x="1608" y="463" width="1" height="1"/></g>
<g shape-rendering="crispEdges" stroke="#b4b4b4" stroke-width="1" stroke-dasharray="3 3">
<line x1="4" y1="499.5" x2="1609" y2="499.5"/>
<line x1="4" y1="518.5" x2="1609" y2="518.5"/>
<line x1="4" y1="538.5" x2="1609" y2="538.5"/>
</g>
<g shape-rendering="crispEdges">
<polyline points="2.6,519.6 7.0,520.5 12.0,511.3 17.4,513.1 23.5,517.4 30.5,509.2 38.1,502.6 43.5,500.0 46.8,499.4 52.2,501.1 57.0,499.6 59.8,499.4 63.5,504.2 69.2,504.8 75.7,510.2 80.0,509.2 88.1,500.5 91.4,500.0 95.7,497.8 100.0,497.2 103.3,493.5 110.9,493.3 118.6,491.3 124.0,497.2 127.3,496.1 131.6,500.5 139.2,491.8 143.6,500.5 147.3,513.1 151.2,507.4 154.9,508.7 162.1,505.2 167.5,505.9 171.9,507.4 175.8,507.6 179.5,515.2 183.4,510.2 187.5,521.3 191.0,513.5 199.0,509.2 206.7,522.2 211.0,523.3 219.3,510.2 231.7,521.6 236.0,514.6 241.5,512.6 246.9,513.1 255.0,509.6 258.9,513.5 265.4,508.7 270.8,509.6 277.4,507.0 285.0,506.5 291.5,507.4 295.8,502.2 299.1,501.5 310.0,501.1 312.2,499.4 315.4,518.3 319.3,511.3 324.1,512.4 327.4,519.6 331.7,512.4 335.0,513.1 341.5,516.8 344.8,516.1 347.6,521.1 352.4,518.3 354.4,519.6 359.1,519.6 363.5,525.5 367.4,518.3 371.3,530.5 376.1,519.0 380.0,516.1 383.7,517.4 388.1,517.4 394.6,525.5 399.6,534.6 407.6,520.0 412.0,518.3 416.3,514.6 419.6,514.6 424.0,517.4 430.9,513.5 436.6,516.3 439.2,515.7 445.7,511.3 454.4,507.0 458.8,506.5 466.4,502.6 470.7,501.5 474.4,500.0 482.7,509.2 491.4,520.0 495.3,517.4 500.1,512.4 505.5,513.1 508.4,513.5 512.1,516.1 517.5,510.9 523.0,510.9 528.0,506.5 531.6,506.5 536.0,513.1 539.7,506.5 546.9,519.0 554.5,522.2 559.9,516.1 567.5,520.0 571.9,516.1 579.5,535.3 591.5,514.6 598.0,518.3 604.1,527.6 611.0,529.8 615.4,528.7 619.7,532.0 623.7,527.0 627.4,527.6 631.7,521.8 640.4,525.5 643.7,525.5 651.3,512.4 655.6,510.9 660.0,514.6 665.4,513.1 669.8,512.4 676.3,509.6 679.6,511.3 683.9,507.4 687.6,509.6 695.9,502.6 700.2,500.5 703.3,500.0 707.6,497.2 710.9,497.2 715.2,494.4 719.6,497.2 723.5,498.3 727.2,502.2 732.6,498.3 738.1,496.5 743.5,494.4 747.4,494.4 751.1,497.8 757.6,510.2 764.2,516.8 768.5,519.6 771.4,519.6 775.0,542.2 779.4,534.8 784.4,537.0 788.1,534.8 791.4,530.5 795.3,533.1 803.3,514.6 812.0,521.8 815.3,520.5 822.9,523.3 827.3,519.0 836.0,525.5 839.2,525.5 843.6,518.3 850.1,514.6 856.2,509.6 859.9,509.6 864.2,512.4 867.9,511.3 875.1,504.4 879.5,510.2 886.0,512.4 891.9,517.4 895.8,513.5 899.7,513.5 904.0,518.3 910.6,515.2 915.4,521.3 923.0,521.3 927.3,528.7 934.9,537.4 939.3,530.5 948.0,524.8 956.3,517.4 959.3,517.4 963.2,528.7 967.6,530.5 974.1,527.0 979.5,516.1 987.1,528.7 991.0,530.9 995.8,521.8 999.8,521.8 1003.5,526.1 1006.7,527.0 1011.5,535.7 1015.4,531.3 1023.0,534.8 1027.4,527.0 1036.1,537.9 1039.4,533.1 1047.0,540.7 1051.3,544.4 1055.7,538.5" fill="none" stroke="#04B3DE" stroke-width="1" />
</g>
<g shape-rendering="crispEdges" fill="#04B3DE">
<rect x="3" y="589" width="1" height="10"/>
<rect x="7" y="590" width="1" height="9"/>
<rect x="11" y="590" width="1" height="9"/>
<rect x="15" y="590" width="1" height="9"/>
<rect x="19" y="591" width="1" height="8"/>
<rect x="23" y="592" width="1" height="7"/>
<rect x="27" y="591" width="1" height="8"/>
<rect x="31" y="590" width="1" height="9"/>
<rect x="35" y="589" width="1" height="10"/>
<rect x="39" y="586" width="1" height="13"/>
<rect x="43" y="585" width="1" height="14"/>
<rect x="47" y="583" width="1" height="16"/>
<rect x="51" y="582" width="1" height="17"/>
<rect x="55" y="581" width="1" height="18"/>
<rect x="59" y="581" width="1" height="18"/>
<rect x="63" y="580" width="1" height="19"/>
<rect x="67" y="579" width="1" height="20"/>
<rect x="71" y="578" width="1" height="21"/>
<rect x="75" y="579" width="1" height="20"/>
<rect x="79" y="579" width="1" height="20"/>
<rect x="83" y="580" width="1" height="19"/>
<rect x="87" y="580" width="1" height="19"/>
<rect x="91" y="580" width="1" height="19"/>
<rect x="95" y="580" width="1" height="19"/>
<rect x="99" y="579" width="1" height="20"/>
<rect x="103" y="578" width="1" height="21"/>
<rect x="107" y="577" width="1" height="22"/>
<rect x="111" y="577" width="1" height="22"/>
<rect x="115" y="577" width="1" height="22"/>
<rect x="119" y="578" width="1" height="21"/>
<rect x="123" y="578" width="1" height="21"/>
<rect x="127" y="577" width="1" height="22"/>
<rect x="131" y="577" width="1" height="22"/>
<rect x="135" y="577" width="1" height="22"/>
<rect x="139" y="578" width="1" height="21"/>
<rect x="143" y="578" width="1" height="21"/>
<rect x="147" y="578" width="1" height="21"/>
<rect x="151" y="578" width="1" height="21"/>
<rect x="155" y="580" width="1" height="19"/>
<rect x="159" y="581" width="1" height="18"/>
<rect x="163" y="581" width="1" height="18"/>
<rect x="167" y="582" width="1" height="17"/>
<rect x="171" y="583" width="1" height="16"/>
<rect x="175" y="584" width="1" height="15"/>
<rect x="179" y="586" width="1" height="13"/>
<rect x="183" y="586" width="1" height="13"/>
<rect x="187" y="589" width="1" height="10"/>
<rect x="191" y="589" width="1" height="10"/>
<rect x="195" y="589" width="1" height="10"/>
<rect x="199" y="589" width="1" height="10"/>
<rect x="203" y="589" width="1" height="10"/>
<rect x="207" y="592" width="1" height="7"/>
<rect x="211" y="594" width="1" height="5"/>
<rect x="215" y="594" width="1" height="5"/>
<rect x="219" y="593" width="1" height="6"/>
<rect x="223" y="593" width="1" height="6"/>
<rect x="227" y="594" width="1" height="5"/>
<rect x="231" y="595" width="1" height="4"/>
<rect x="235" y="594" width="1" height="5"/>
<rect x="239" y="594" width="1" height="5"/>
<rect x="243" y="593" width="1" height="6"/>
<rect x="247" y="593" width="1" height="6"/>
<rect x="251" y="592" width="1" height="7"/>
<rect x="255" y="591" width="1" height="8"/>
<rect x="259" y="591" width="1" height="8"/>
<rect x="263" y="591" width="1" height="8"/>
<rect x="267" y="589" width="1" height="10"/>
<rect x="271" y="589" width="1" height="10"/>
<rect x="275" y="589" width="1" height="10"/>
<rect x="279" y="588" width="1" height="11"/>
<rect x="283" y="588" width="1" height="11"/>
<rect x="287" y="587" width="1" height="12"/>
<rect x="291" y="588" width="1" height="11"/>
<rect x="295" y="586" width="1" height="13"/>
<rect x="299" y="586" width="1" height="13"/>
<rect x="303" y="585" width="1" height="14"/>
<rect x="307" y="585" width="1" height="14"/>
<rect x="311" y="585" width="1" height="14"/>
<rect x="315" y="586" width="1" height="13"/>
<rect x="319" y="587" width="1" height="12"/>
<rect x="323" y="588" width="1" height="11"/>
<rect x="327" y="590" width="1" height="9"/>
<rect x="331" y="590" width="1" height="9"/>
<rect x="335" y="590" width="1" height="9"/>
<rect x="339" y="591" width="1" height="8"/>
<rect x="343" y="592" width="1" height="7"/>
<rect x="347" y="594" width="1" height="5"/>
<rect x="351" y="595" width="1" height="4"/>
<rect x="355" y="595" width="1" height="4"/>
<rect x="359" y="596" width="1" height="3"/>
<rect x="363" y="597" width="1" height="2"/>
<rect x="367" y="597" width="1" height="2"/>
<rect x="371" y="597" width="1" height="2"/>
<rect x="375" y="598" width="1" height="1"/>
<rect x="379" y="598" width="1" height="1"/>
<rect x="383" y="598" width="1" height="1"/>
<rect x="387" y="598" width="1" height="1"/>
<rect x="391" y="598" width="1" height="1"/>
<rect x="395" y="598" width="1" height="2"/>
<rect x="399" y="598" width="1" height="6"/>
<rect x="403" y="598" width="1" height="7"/>
<rect x="407" y="598" width="1" height="6"/>
<rect x="411" y="598" width="1" height="5"/>
<rect x="415" y="598" width="1" height="4"/>
<rect x="419" y="598" width="1" height="3"/>
<rect x="423" y="598" width="1" height="2"/>
<rect x="427" y="598" width="1" height="1"/>
<rect x="431" y="598" width="1" height="1"/>
<rect x="435" y="597" width="1" height="2"/>
<rect x="439" y="596" width="1" height="3"/>
<rect x="443" y="596" width="1" height="3"/>
<rect x="447" y="594" width="1" height="5"/>
<rect x="451" y="594" width="1" height="5"/>
<rect x="455" y="591" width="1" height="8"/>
<rect x="459" y="591" width="1" height="8"/>
<rect x="463" y="589" width="1" height="10"/>
<rect x="467" y="588" width="1" height="11"/>
<rect x="471" y="586" width="1" height="13"/>
<rect x="475" y="585" width="1" height="14"/>
<rect x="479" y="585" width="1" height="14"/>
<rect x="483" y="585" width="1" height="14"/>
<rect x="487" y="586" width="1" height="13"/>
<rect x="491" y="588" width="1" height="11"/>
<rect x="495" y="589" width="1" height="10"/>
<rect x="499" y="589" width="1" height="10"/>
<rect x="503" y="589" width="1" height="10"/>
<rect x="507" y="589" width="1" height="10"/>
<rect x="511" y="590" width="1" height="9"/>
<rect x="515" y="590" width="1" height="9"/>
<rect x="519" y="590" width="1" height="9"/>
<rect x="523" y="590" width="1" height="9"/>
<rect x="527" y="590" width="1" height="9"/>
<rect x="531" y="590" width="1" height="9"/>
<rect x="535" y="590" width="1" height="9"/>
<rect x="539" y="590" width="1" height="9"/>
<rect x="543" y="590" width="1" height="9"/>
<rect x="547" y="590" width="1" height="9"/>
<rect x="551" y="592" width="1" height="7"/>
<rect x="555" y="594" width="1" height="5"/>
<rect x="559" y="595" width="1" height="4"/>
<rect x="563" y="595" width="1" height="4"/>
<rect x="567" y="596" width="1" height="3"/>
<rect x="571" y="597" width="1" height="2"/>
<rect x="575" y="598" width="1" height="1"/>
<rect x="579" y="598" width="1" height="3"/>
<rect x="583" y="598" width="1" height="5"/>
<rect x="587" y="598" width="1" height="3"/>
<rect x="591" y="598" width="1" height="2"/>
<rect x="595" y="598" width="1" height="1"/>
<rect x="599" y="598" width="1" height="2"/>
<rect x="603" y="598" width="1" height="3"/>
<rect x="607" y="598" width="1" height="4"/>
<rect x="611" y="598" width="1" height="6"/>
<rect x="615" y="598" width="1" height="9"/>
<rect x="619" y="598" width="1" height="11"/>
<rect x="623" y="598" width="1" height="11"/>
<rect x="627" y="598" width="1" height="11"/>
<rect x="631" y="598" width="1" height="11"/>
<rect x="635" y="598" width="1" height="10"/>
<rect x="639" y="598" width="1" height="10"/>
<rect x="643" y="598" width="1" height="10"/>
<rect x="647" y="598" width="1" height="8"/>
<rect x="651" y="598" width="1" height="6"/>
<rect x="655" y="598" width="1" height="3"/>
<rect x="659" y="598" width="1" height="1"/>
<rect x="663" y="598" width="1" height="1"/>
<rect x="667" y="597" width="1" height="2"/>
<rect x="671" y="596" width="1" height="3"/>
<rect x="675" y="594" width="1" height="5"/>
<rect x="679" y="593" width="1" height="6"/>
<rect x="683" y="592" width="1" height="7"/>
<rect x="687" y="591" width="1" height="8"/>
<rect x="691" y="590" width="1" height="9"/>
<rect x="695" y="589" width="1" height="10"/>
<rect x="699" y="586" width="1" height="13"/>
<rect x="703" y="585" width="1" height="14"/>
<rect x="707" y="583" width="1" height="16"/>
<rect x="711" y="581" width="1" height="18"/>
<rect x="715" y="580" width="1" height="19"/>
<rect x="719" y="578" width="1" height="21"/>
<rect x="723" y="578" width="1" height="21"/>
<rect x="727" y="578" width="1" height="21"/>
<rect x="731" y="578" width="1" height="21"/>
<rect x="735" y="578" width="1" height="21"/>
<rect x="739" y="577" width="1" height="22"/>
<rect x="743" y="577" width="1" height="22"/>
<rect x="747" y="577" width="1" height="22"/>
<rect x="751" y="577" width="1" height="22"/>
<rect x="755" y="579" width="1" height="20"/>
<rect x="759" y="581" width="1" height="18"/>
<rect x="763" y="584" width="1" height="15"/>
<rect x="767" y="587" width="1" height="12"/>
<rect x="771" y="589" width="1" height="10"/>
<rect x="775" y="597" width="1" height="2"/>
<rect x="779" y="598" width="1" height="3"/>
<rect x="783" y="598" width="1" height="8"/>
<rect x="787" y="598" width="1" height="12"/>
<rect x="791" y="598" width="1" height="13"/>
<rect x="795" y="598" width="1" height="15"/>
<rect x="799" y="598" width="1" height="15"/>
<rect x="803" y="598" width="1" height="11"/>
<rect x="807" y="598" width="1" height="8"/>
<rect x="811" y="598" width="1" height="7"/>
<rect x="815" y="598" width="1" height="7"/>
<rect x="819" y="598" width="1" height="7"/>
<rect x="823" y="598" width="1" height="7"/>
<rect x="827" y="598" width="1" height="7"/>
<rect x="831" y="598" width="1" height="6"/>
<rect x="835" y="598" width="1" height="5"/>
<rect x="839" y="598" width="1" height="5"/>
<rect x="843" y="598" width="1" height="4"/>
<rect x="847" y="598" width="1" height="4"/>
<rect x="851" y="598" width="1" height="2"/>
<rect x="855" y="598" width="1" height="1"/>
<rect x="859" y="596" width="1" height="3"/>
<rect x="863" y="595" width="1" height="4"/>
<rect x="867" y="593" width="1" height="6"/>
<rect x="871" y="591" width="1" height="8"/>
<rect x="875" y="589" width="1" height="10"/>
<rect x="879" y="588" width="1" height="11"/>
<rect x="883" y="588" width="1" height="11"/>
<rect x="887" y="589" width="1" height="10"/>
<rect x="891" y="589" width="1" height="10"/>
<rect x="895" y="590" width="1" height="9"/>
<rect x="899" y="590" width="1" height="9"/>
<rect x="903" y="591" width="1" height="8"/>
<rect x="907" y="591" width="1" height="8"/>
<rect x="911" y="592" width="1" height="7"/>
<rect x="915" y="594" width="1" height="5"/>
<rect x="919" y="595" width="1" height="4"/>
<rect x="923" y="596" width="1" height="3"/>
<rect x="927" y="598" width="1" height="1"/>
<rect x="931" y="598" width="1" height="4"/>
<rect x="935" y="598" width="1" height="8"/>
<rect x="939" y="598" width="1" height="10"/>
<rect x="943" y="598" width="1" height="10"/>
<rect x="947" y="598" width="1" height="11"/>
<rect x="951" y="598" width="1" height="10"/>
<rect x="955" y="598" width="1" height="8"/>
<rect x="959" y="598" width="1" height="9"/>
<rect x="963" y="598" width="1" height="9"/>
<rect x="967" y="598" width="1" height="10"/>
<rect x="971" y="598" width="1" height="11"/>
<rect x="975" y="598" width="1" height="10"/>
<rect x="979" y="598" width="1" height="9"/>
<rect x="983" y="598" width="1" height="10"/>
<rect x="987" y="598" width="1" height="10"/>
<rect x="991" y="598" width="1" height="12"/>
<rect x="995" y="598" width="1" height="12"/>
<rect x="999" y="598" width="1" height="11"/>
<rect x="1003" y="598" width="1" height="12"/>
<rect x="1007" y="598" width="1" height="12"/>
<rect x="1011" y="598" width="1" height="16"/>
<rect x="1015" y="598" width="1" height="18"/>
<rect x="1019" y="598" width="1" height="22"/>
<rect x="1023" y="598" width="1" height="23"/>
<rect x="1027" y="598" width="1" height="23"/>
<rect x="1031" y="598" width="1" height="25"/>
<rect x="1035" y="598" width="1" height="31"/>
<rect x="1039" y="598" width="1" height="33"/>
<rect x="1043" y="598" width="1" height="36"/>
<rect x="1047" y="598" width="1" height="44"/>
<rect x="1051" y="598" width="1" height="52"/>
<rect x="1055" y="598" width="1" height="55"/>
</g>
<g shape-rendering="crispEdges">
<polyline points="3.9,586.5 13.0,588.0 30.5,589.3 43.5,586.5 61.0,582.0 78.3,578.9 97.9,577.8 117.5,577.1 134.9,577.1 152.3,577.1 169.7,578.9 184.9,582.1 200.1,585.4 217.5,589.3 234.9,592.4 250.2,593.0 265.4,591.5 282.8,588.7 300.2,586.5 315.4,585.0 332.8,585.8 348.0,589.3 371.8,594.1 393.5,598.5 415.3,602.4 432.7,602.4 447.9,596.3 463.1,591.9 480.5,587.6 497.9,586.5 515.3,589.8 545.8,590.2 567.5,593.0 584.9,597.4 611.0,602.8 632.8,607.6 648.0,609.3 665.4,605.0 682.8,597.4 698.0,591.9 713.0,586.5 726.1,581.5 739.2,577.8 760.9,577.8 771.8,580.6 782.7,587.6 793.5,597.4 804.4,606.7 817.5,609.3 830.5,608.2 841.4,606.1 854.4,605.0 869.7,599.5 880.6,593.7 891.4,589.8 904.5,588.7 917.5,589.3 930.6,593.0 943.6,600.2 956.7,604.5 971.9,607.6 987.1,607.6 1004.5,609.3 1017.6,613.2 1032.8,617.6 1043.7,624.1 1054.6,633.3" fill="none" stroke="#000" stroke-width="1" stroke-dasharray="3 3"/>
</g>
<path d="M6.5,9.5 L13,9.5 L9.75,13 Z" fill="#333"/>
<text x="18.1" y="14" textLength="85.4" lengthAdjust="spacingAndGlyphs" font-family="Liberation Sans, sans-serif" font-size="10" fill="#1a1a1a">.EURO50Cash,Daily</text>
<text x="109.8" y="14" textLength="141.1" lengthAdjust="spacingAndGlyphs" font-family="Liberation Sans, sans-serif" font-size="10" fill="#1a1a1a">3432.60&#160;3656.30&#160;3418.90&#160;3563.30</text>
<text x="7.2" y="481" textLength="68.1" lengthAdjust="spacingAndGlyphs" font-family="Liberation Sans, sans-serif" font-size="10" fill="#1a1a1a">RSI(14)&#160;31.4933</text>
<text x="7.3" y="583" textLength="143.6" lengthAdjust="spacingAndGlyphs" font-family="Liberation Sans, sans-serif" font-size="10" fill="#1a1a1a">MACD(12,26,9)&#160;-152.681&#160;-101.330</text>
<g shape-rendering="crispEdges" fill="#4a4a4a">
<rect x="1610" y="67" width="2" height="1"/>
<rect x="1610" y="100" width="2" height="1"/>
<rect x="1610" y="331" width="2" height="1"/>
<rect x="1610" y="463" width="2" height="1"/>
<rect x="1610" y="34" width="2" height="1"/>
<rect x="1610" y="133" width="2" height="1"/>
<rect x="1610" y="166" width="2" height="1"/>
<rect x="1610" y="199" width="2" height="1"/>
<rect x="1610" y="232" width="2" height="1"/>
<rect x="1610" y="265" width="2" height="1"/>
<rect x="1610" y="298" width="2" height="1"/>
<rect x="1610" y="364" width="2" height="1"/>
<rect x="1610" y="397" width="2" height="1"/>
<rect x="1610" y="430" width="2" height="1"/>
</g>
<text x="1614.8" y="38" textLength="33.3" lengthAdjust="spacingAndGlyphs" font-family="Liberation Sans, sans-serif" font-size="10" fill="#1a1a1a">4628.70</text>
<text x="1614.8" y="137" textLength="33.3" lengthAdjust="spacingAndGlyphs" font-family="Liberation Sans, sans-serif" font-size="10" fill="#1a1a1a">4273.70</text>
<text x="1614.8" y="170" textLength="33.3" lengthAdjust="spacingAndGlyphs" font-family="Liberation Sans, sans-serif" font-size="10" fill="#1a1a1a">4156.55</text>
<text x="1614.8" y="203" textLength="33.3" lengthAdjust="spacingAndGlyphs" font-family="Liberation Sans, sans-serif" font-size="10" fill="#1a1a1a">4039.40</text>
<text x="1614.8" y="236" textLength="33.3" lengthAdjust="spacingAndGlyphs" font-family="Liberation Sans, sans-serif" font-size="10" fill="#1a1a1a">3922.25</text>
<text x="1614.8" y="269" textLength="33.3" lengthAdjust="spacingAndGlyphs" font-family="Liberation Sans, sans-serif" font-size="10" fill="#1a1a1a">3805.10</text>
<text x="1614.8" y="302" textLength="33.3" lengthAdjust="spacingAndGlyphs" font-family="Liberation Sans, sans-serif" font-size="10" fill="#1a1a1a">3684.40</text>
<text x="1614.8" y="368" textLength="33.3" lengthAdjust="spacingAndGlyphs" font-family="Liberation Sans, sans-serif" font-size="10" fill="#1a1a1a">3450.10</text>
<text x="1614.8" y="401" textLength="33.3" lengthAdjust="spacingAndGlyphs" font-family="Liberation Sans, sans-serif" font-size="10" fill="#1a1a1a">3332.95</text>
<text x="1614.8" y="434" textLength="33.3" lengthAdjust="spacingAndGlyphs" font-family="Liberation Sans, sans-serif" font-size="10" fill="#1a1a1a">3215.80</text>
<rect x="1611" y="36" width="41" height="11" fill="#000" shape-rendering="crispEdges"/>
<text x="1614.8" y="45" textLength="33.3" lengthAdjust="spacingAndGlyphs" font-family="Liberation Sans, sans-serif" font-size="10" fill="#fff">4600.00</text>
<rect x="1611" y="64" width="41" height="11" fill="#000" shape-rendering="crispEdges"/>
<text x="1614.8" y="73" textLength="33.3" lengthAdjust="spacingAndGlyphs" font-family="Liberation Sans, sans-serif" font-size="10" fill="#fff">4500.00</text>
<rect x="1611" y="88" width="41" height="11" fill="#000" shape-rendering="crispEdges"/>
<text x="1614.8" y="97" textLength="33.3" lengthAdjust="spacingAndGlyphs" font-family="Liberation Sans, sans-serif" font-size="10" fill="#fff">4415.00</text>
<rect x="1611" y="93" width="41" height="11" fill="#000" shape-rendering="crispEdges"/>
<text x="1614.8" y="102" textLength="33.3" lengthAdjust="spacingAndGlyphs" font-family="Liberation Sans, sans-serif" font-size="10" fill="#fff">4395.00</text>
<rect x="1611" y="119" width="41" height="11" fill="#000" shape-rendering="crispEdges"/>
<text x="1614.8" y="128" textLength="33.3" lengthAdjust="spacingAndGlyphs" font-family="Liberation Sans, sans-serif" font-size="10" fill="#fff">4303.00</text>
<rect x="1611" y="137" width="41" height="11" fill="#000" shape-rendering="crispEdges"/>
<text x="1614.8" y="146" textLength="33.3" lengthAdjust="spacingAndGlyphs" font-family="Liberation Sans, sans-serif" font-size="10" fill="#fff">4240.00</text>
<rect x="1611" y="187" width="41" height="11" fill="#000" shape-rendering="crispEdges"/>
<text x="1614.8" y="196" textLength="33.3" lengthAdjust="spacingAndGlyphs" font-family="Liberation Sans, sans-serif" font-size="10" fill="#fff">4060.00</text>
<rect x="1611" y="217" width="41" height="11" fill="#000" shape-rendering="crispEdges"/>
<text x="1614.8" y="226" textLength="33.3" lengthAdjust="spacingAndGlyphs" font-family="Liberation Sans, sans-serif" font-size="10" fill="#fff">3955.00</text>
<rect x="1611" y="238" width="41" height="11" fill="#000" shape-rendering="crispEdges"/>
<text x="1614.8" y="247" textLength="33.3" lengthAdjust="spacingAndGlyphs" font-family="Liberation Sans, sans-serif" font-size="10" fill="#fff">3880.00</text>
<rect x="1611" y="286" width="41" height="11" fill="#000" shape-rendering="crispEdges"/>
<text x="1614.8" y="295" textLength="33.3" lengthAdjust="spacingAndGlyphs" font-family="Liberation Sans, sans-serif" font-size="10" fill="#fff">3707.00</text>
<rect x="1611" y="310" width="41" height="11" fill="#000" shape-rendering="crispEdges"/>
<text x="1614.8" y="319" textLength="33.3" lengthAdjust="spacingAndGlyphs" font-family="Liberation Sans, sans-serif" font-size="10" fill="#fff">3620.00</text>
<rect x="1611" y="372" width="41" height="11" fill="#000" shape-rendering="crispEdges"/>
<text x="1614.8" y="381" textLength="33.3" lengthAdjust="spacingAndGlyphs" font-family="Liberation Sans, sans-serif" font-size="10" fill="#fff">3400.00</text>
<rect x="1611" y="397" width="41" height="11" fill="#000" shape-rendering="crispEdges"/>
<text x="1614.8" y="406" textLength="33.3" lengthAdjust="spacingAndGlyphs" font-family="Liberation Sans, sans-serif" font-size="10" fill="#fff">3310.00</text>
<rect x="1611" y="442" width="41" height="11" fill="#000" shape-rendering="crispEdges"/>
<text x="1614.8" y="451" textLength="33.3" lengthAdjust="spacingAndGlyphs" font-family="Liberation Sans, sans-serif" font-size="10" fill="#fff">3150.00</text>
<rect x="1611" y="458" width="41" height="11" fill="#000" shape-rendering="crispEdges"/>
<text x="1614.8" y="467" textLength="33.3" lengthAdjust="spacingAndGlyphs" font-family="Liberation Sans, sans-serif" font-size="10" fill="#fff">3095.00</text>
<rect x="1611" y="327" width="41" height="11" fill="#404040" shape-rendering="crispEdges"/>
<text x="1614.8" y="336" textLength="33.3" lengthAdjust="spacingAndGlyphs" font-family="Liberation Sans, sans-serif" font-size="10" fill="#fff">3563.30</text>
<text x="1612.9" y="479" textLength="15.3" lengthAdjust="spacingAndGlyphs" font-family="Liberation Sans, sans-serif" font-size="10" fill="#1a1a1a">100</text>
<text x="1612.9" y="503" textLength="9.6" lengthAdjust="spacingAndGlyphs" font-family="Liberation Sans, sans-serif" font-size="10" fill="#1a1a1a">70</text>
<text x="1612.9" y="522" textLength="9.6" lengthAdjust="spacingAndGlyphs" font-family="Liberation Sans, sans-serif" font-size="10" fill="#1a1a1a">50</text>
<text x="1612.9" y="542" textLength="9.6" lengthAdjust="spacingAndGlyphs" font-family="Liberation Sans, sans-serif" font-size="10" fill="#1a1a1a">30</text>
<text x="1612.9" y="565" textLength="5.0" lengthAdjust="spacingAndGlyphs" font-family="Liberation Sans, sans-serif" font-size="10" fill="#1a1a1a">0</text>
<text x="1612.9" y="581" textLength="28.1" lengthAdjust="spacingAndGlyphs" font-family="Liberation Sans, sans-serif" font-size="10" fill="#1a1a1a">74.277</text>
<text x="1612.9" y="602" textLength="18.6" lengthAdjust="spacingAndGlyphs" font-family="Liberation Sans, sans-serif" font-size="10" fill="#1a1a1a">0.00</text>
<text x="1612.9" y="654" textLength="36.9" lengthAdjust="spacingAndGlyphs" font-family="Liberation Sans, sans-serif" font-size="10" fill="#1a1a1a">-163.489</text>
<g shape-rendering="crispEdges" fill="#4a4a4a">
<rect x="3" y="658" width="1" height="3"/>
<rect x="67" y="658" width="1" height="3"/>
<rect x="131" y="658" width="1" height="3"/>
<rect x="195" y="658" width="1" height="3"/>
<rect x="259" y="658" width="1" height="3"/>
<rect x="323" y="658" width="1" height="3"/>
<rect x="387" y="658" width="1" height="3"/>
<rect x="451" y="658" width="1" height="3"/>
<rect x="515" y="658" width="1" height="3"/>
<rect x="579" y="658" width="1" height="3"/>
<rect x="643" y="658" width="1" height="3"/>
<rect x="707" y="658" width="1" height="3"/>
<rect x="771" y="658" width="1" height="3"/>
<rect x="835" y="658" width="1" height="3"/>
<rect x="899" y="658" width="1" height="3"/>
<rect x="963" y="658" width="1" height="3"/>
<rect x="1027" y="658" width="1" height="3"/>
</g>
<text x="1.6" y="670" textLength="52.9" lengthAdjust="spacingAndGlyphs" font-family="Liberation Sans, sans-serif" font-size="10" fill="#1a1a1a">25&#160;Feb&#160;2021</text>
<text x="65.6" y="670" textLength="52.9" lengthAdjust="spacingAndGlyphs" font-family="Liberation Sans, sans-serif" font-size="10" fill="#1a1a1a">19&#160;Mar&#160;2021</text>
<text x="129.6" y="670" textLength="51.3" lengthAdjust="spacingAndGlyphs" font-family="Liberation Sans, sans-serif" font-size="10" fill="#1a1a1a">14&#160;Apr&#160;2021</text>
<text x="193.6" y="670" textLength="49.2" lengthAdjust="spacingAndGlyphs" font-family="Liberation Sans, sans-serif" font-size="10" fill="#1a1a1a">6&#160;May&#160;2021</text>
<text x="257.6" y="670" textLength="54.4" lengthAdjust="spacingAndGlyphs" font-family="Liberation Sans, sans-serif" font-size="10" fill="#1a1a1a">31&#160;May&#160;2021</text>
<text x="321.6" y="670" textLength="51.8" lengthAdjust="spacingAndGlyphs" font-family="Liberation Sans, sans-serif" font-size="10" fill="#1a1a1a">22&#160;Jun&#160;2021</text>
<text x="385.6" y="670" textLength="48.7" lengthAdjust="spacingAndGlyphs" font-family="Liberation Sans, sans-serif" font-size="10" fill="#1a1a1a">14&#160;Jul&#160;2021</text>
<text x="449.6" y="670" textLength="48.2" lengthAdjust="spacingAndGlyphs" font-family="Liberation Sans, sans-serif" font-size="10" fill="#1a1a1a">5&#160;Aug&#160;2021</text>
<text x="513.6" y="670" textLength="53.4" lengthAdjust="spacingAndGlyphs" font-family="Liberation Sans, sans-serif" font-size="10" fill="#1a1a1a">27&#160;Aug&#160;2021</text>
<text x="577.6" y="670" textLength="53.4" lengthAdjust="spacingAndGlyphs" font-family="Liberation Sans, sans-serif" font-size="10" fill="#1a1a1a">20&#160;Sep&#160;2021</text>
<text x="641.6" y="670" textLength="51.3" lengthAdjust="spacingAndGlyphs" font-family="Liberation Sans, sans-serif" font-size="10" fill="#1a1a1a">12&#160;Oct&#160;2021</text>
<text x="705.6" y="670" textLength="48.2" lengthAdjust="spacingAndGlyphs" font-family="Liberation Sans, sans-serif" font-size="10" fill="#1a1a1a">3&#160;Nov&#160;2021</text>
<text x="769.6" y="670" textLength="53.4" lengthAdjust="spacingAndGlyphs" font-family="Liberation Sans, sans-serif" font-size="10" fill="#1a1a1a">25&#160;Nov&#160;2021</text>
<text x="833.6" y="670" textLength="53.4" lengthAdjust="spacingAndGlyphs" font-family="Liberation Sans, sans-serif" font-size="10" fill="#1a1a1a">17&#160;Dec&#160;2021</text>
<text x="897.6" y="670" textLength="51.8" lengthAdjust="spacingAndGlyphs" font-family="Liberation Sans, sans-serif" font-size="10" fill="#1a1a1a">12&#160;Jan&#160;2022</text>
<text x="961.6" y="670" textLength="47.7" lengthAdjust="spacingAndGlyphs" font-family="Liberation Sans, sans-serif" font-size="10" fill="#1a1a1a">3&#160;Feb&#160;2022</text>
<text x="1025.6" y="670" textLength="52.9" lengthAdjust="spacingAndGlyphs" font-family="Liberation Sans, sans-serif" font-size="10" fill="#1a1a1a">25&#160;Feb&#160;2022</text>
<defs><linearGradient id="lg" x1="0" y1="0" x2="0" y2="1"><stop offset="0" stop-color="#2c333d"/><stop offset="1" stop-color="#4b535d"/></linearGradient></defs>
<rect x="12" y="22" width="117" height="56" fill="#fff"/>
<g fill="url(#lg)">
<path d="M31.3,26 H40.5 V60 Q40.5,72.4 28,72.4 H20.6 V64 H28 Q31.3,64 31.3,60 Z"/>
<path d="M47.9,26 H78.7 V34.5 H57.1 V45 H72.1 V53 H57.1 V72.4 H47.9 Z"/>
<rect x="84.8" y="26" width="2.2" height="46.4"/>
<rect x="82.8" y="42" width="6.6" height="14.8"/>
<path d="M90.1,26 H102 Q120,26 120,46 V52.4 Q120,72.4 102,72.4 H90.1 V62.8 H102 Q110,62.8 110,52.4 V46 Q110,35.4 102,35.4 H90.1 Z"/>
</g>
</svg>
</body></html>
